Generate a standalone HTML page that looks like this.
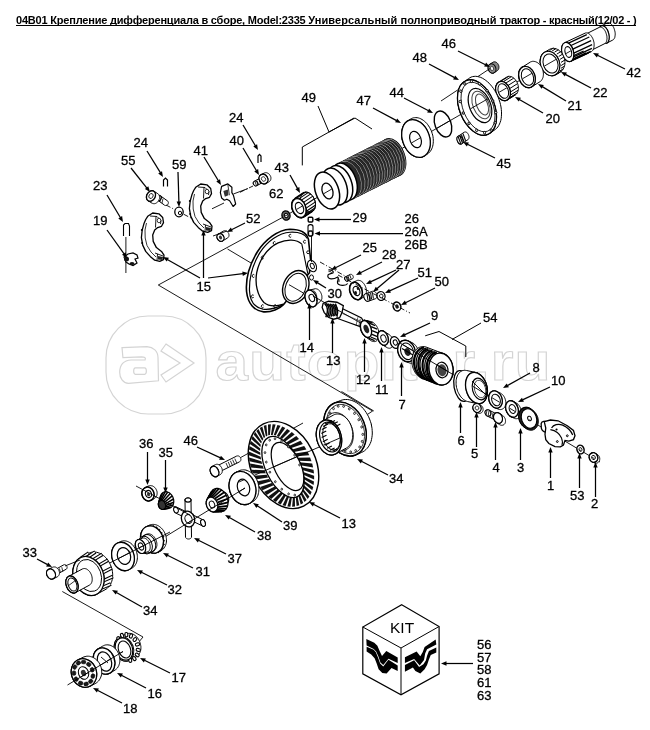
<!DOCTYPE html>
<html><head><meta charset="utf-8"><style>
html,body{margin:0;padding:0;background:#fff;}
body{width:650px;height:730px;overflow:hidden;position:relative;filter:grayscale(1);font-family:"Liberation Sans",sans-serif;}
#t{position:absolute;left:16px;top:15px;font-size:11px;font-weight:bold;white-space:nowrap;letter-spacing:-0.15px;color:#000;border-bottom:1px solid #000;line-height:11px;height:10px;}
svg{position:absolute;left:0;top:0;}
.lb text{font-size:13px;fill:#000;stroke:#000;stroke-width:0.3px;}
.ld line{stroke:#000;stroke-width:1.25;}
.ah{fill:#000;stroke:none;}
</style></head><body>
<svg width="650" height="730" viewBox="0 0 650 730" font-family="Liberation Sans, sans-serif">
<rect x="106" y="316" width="100" height="98" rx="42" ry="42" fill="none" stroke="#d4d4d4" stroke-width="1.2"/>
<g transform="translate(110 330) scale(0.09234)"><path d="M130,190 L400,180 C470,185 520,230 520,300 L525,550 L200,578 C140,575 105,520 105,460 C105,380 140,330 230,325 L380,325 C392,300 372,290 340,290 L140,298 Z M275,410 L375,410 C400,410 400,480 375,480 L275,480 C250,480 250,410 275,410 Z" fill="none" stroke="#d4d4d4" stroke-width="1.2" vector-effect="non-scaling-stroke"/></g>
<path d="M166,344 L194,363 L166,382 L161,375 L180,363 L161,351Z" fill="none" stroke="#d4d4d4" stroke-width="1.2"/>
<text transform="translate(215.5 380) scale(1.08 1)" font-family="Liberation Sans" font-weight="bold" font-size="54" letter-spacing="1.2" fill="none" stroke="#d4d4d4" stroke-width="1.1">autopiter.ru</text>
<path d="M612.0,27.0L286.0,215.5L158.3,285.0L372.6,411.0L361.6,418.3" fill="none" stroke="#000" stroke-width="0.9" />
<line x1="227.5" y1="249.0" x2="251.0" y2="263.0" stroke="#000" stroke-width="0.9" />
<path d="M302.3,165.4L302.3,147.0L354.0,118.0" fill="none" stroke="#000" stroke-width="1" />
<path d="M318.0,106.0L329.0,132.0" fill="none" stroke="#000" stroke-width="1" />
<path d="M329.0,132.0L355.0,118.0L372.0,129.0" fill="none" stroke="#000" stroke-width="1" />
<path d="M425.2,335.8L439.0,331.5L465.8,346.0L465.8,357.0" fill="none" stroke="#000" stroke-width="1" />
<line x1="452.0" y1="339.5" x2="481.0" y2="323.0" stroke="#000" stroke-width="1" />
<path d="M62.3,591.5L143.0,637.0L138.0,643.0" fill="none" stroke="#000" stroke-width="0.9" />
<path d="M341.5,391.5L373.8,411.0" fill="none" stroke="#000" stroke-width="0.9" />
<path d="M598.8,32.0L598.8,31.2L598.9,30.5L599.0,29.9L599.1,29.2L599.2,28.6L599.4,28.1L599.7,27.6L599.9,27.1L600.2,26.8L600.5,26.4L600.9,26.2L601.3,25.9L607.3,22.9L607.7,22.8L608.1,22.7L608.5,22.7L609.0,22.8L609.4,22.9L609.8,23.1L610.3,23.4L610.8,23.7L611.2,24.0L611.6,24.5L612.1,25.0L612.5,25.5L612.9,26.1L613.2,26.7L613.6,27.4L613.9,28.1L614.2,28.8L614.4,29.5L614.6,30.3L614.8,31.0L615.0,31.8L615.1,32.5L615.2,33.3L615.2,34.0L615.2,34.8L615.1,35.5L615.0,36.1L614.9,36.8L614.8,37.4L614.6,37.9L614.3,38.4L614.1,38.9L613.8,39.2L613.5,39.6L613.1,39.8L612.7,40.1L606.7,43.1L606.3,43.2L605.9,43.3L605.5,43.3L605.0,43.2L604.6,43.1L604.2,42.9L603.7,42.6L603.2,42.3L602.8,42.0L602.4,41.5L601.9,41.0L601.5,40.5L601.1,39.9L600.8,39.3L600.4,38.6L600.1,38.0L599.8,37.2L599.6,36.5L599.4,35.7L599.2,35.0L599.0,34.2L598.9,33.5L598.8,32.7Z" fill="#fff" stroke="#000" stroke-width="1" /><ellipse cx="604.0" cy="34.5" rx="4.8" ry="9.0" transform="rotate(-15 604.0 34.5)" fill="#fff" stroke="#000" stroke-width="1" />
<ellipse cx="604.0" cy="34.5" rx="4.8" ry="9.0" transform="rotate(-15 604.0 34.5)" fill="#fff" stroke="#000" stroke-width="1.1" />
<path d="M583.0,40.1L583.0,39.4L583.1,38.7L583.2,38.1L583.3,37.5L583.4,36.9L583.6,36.4L583.9,35.9L584.1,35.5L584.4,35.1L584.7,34.8L585.0,34.5L585.4,34.3L599.4,27.3L599.8,27.2L600.2,27.1L600.6,27.1L601.0,27.2L601.4,27.3L601.9,27.5L602.3,27.7L602.7,28.0L603.2,28.4L603.6,28.8L604.0,29.2L604.4,29.8L604.7,30.3L605.1,30.9L605.4,31.5L605.7,32.2L606.0,32.9L606.2,33.6L606.4,34.3L606.6,35.0L606.8,35.8L606.9,36.5L606.9,37.2L607.0,37.9L607.0,38.6L606.9,39.3L606.8,39.9L606.7,40.5L606.6,41.1L606.4,41.6L606.1,42.1L605.9,42.5L605.6,42.9L605.3,43.2L605.0,43.5L604.6,43.7L590.6,50.7L590.2,50.8L589.8,50.9L589.4,50.9L589.0,50.8L588.6,50.7L588.1,50.5L587.7,50.3L587.3,50.0L586.8,49.6L586.4,49.2L586.0,48.8L585.6,48.2L585.3,47.7L584.9,47.1L584.6,46.5L584.3,45.8L584.0,45.1L583.8,44.4L583.6,43.7L583.4,43.0L583.2,42.2L583.1,41.5L583.1,40.8Z" fill="#fff" stroke="#000" stroke-width="1" /><ellipse cx="588.0" cy="42.5" rx="4.6" ry="8.6" transform="rotate(-15 588.0 42.5)" fill="#fff" stroke="#000" stroke-width="1" />
<path d="M561.6,49.4L561.6,48.6L561.7,47.8L561.8,47.1L561.9,46.4L562.2,45.7L562.4,45.1L562.7,44.6L563.0,44.1L563.4,43.6L563.8,43.2L564.2,42.9L564.7,42.7L585.0,33.2L585.5,33.0L586.0,32.9L586.5,32.9L587.0,33.0L587.5,33.1L588.1,33.3L588.6,33.6L589.1,33.9L589.7,34.3L590.2,34.7L590.7,35.3L591.1,35.8L591.6,36.5L592.0,37.1L592.4,37.9L592.8,38.6L593.1,39.4L593.4,40.2L593.6,41.0L593.8,41.8L594.0,42.7L594.1,43.5L594.1,44.3L594.1,45.1L594.1,45.9L594.0,46.7L593.9,47.4L593.8,48.1L593.5,48.8L593.3,49.4L593.0,49.9L592.7,50.4L592.3,50.9L591.9,51.3L591.5,51.6L591.0,51.8L570.7,61.3L570.2,61.5L569.7,61.6L569.2,61.6L568.7,61.5L568.2,61.4L567.6,61.2L567.1,60.9L566.6,60.6L566.0,60.2L565.5,59.8L565.0,59.2L564.6,58.7L564.1,58.0L563.7,57.4L563.3,56.6L562.9,55.9L562.6,55.1L562.3,54.3L562.1,53.5L561.9,52.7L561.7,51.8L561.6,51.0L561.6,50.2Z" fill="#fff" stroke="#000" stroke-width="1" /><ellipse cx="567.7" cy="52.0" rx="5.8" ry="9.8" transform="rotate(-15 567.7 52.0)" fill="#fff" stroke="#000" stroke-width="1" />
<line x1="568.5" y1="43.2" x2="586.8" y2="34.7" stroke="#000" stroke-width="1.3" /><line x1="571.0" y1="45.5" x2="589.3" y2="37.0" stroke="#000" stroke-width="1.3" /><line x1="572.8" y1="49.1" x2="591.1" y2="40.6" stroke="#000" stroke-width="1.3" /><line x1="573.8" y1="53.1" x2="592.1" y2="44.6" stroke="#000" stroke-width="1.3" /><line x1="573.6" y1="56.9" x2="591.9" y2="48.4" stroke="#000" stroke-width="1.3" /><line x1="572.4" y1="59.9" x2="590.7" y2="51.4" stroke="#000" stroke-width="1.3" /><line x1="570.3" y1="61.4" x2="588.6" y2="52.9" stroke="#000" stroke-width="1.3" /><line x1="567.8" y1="61.3" x2="586.1" y2="52.8" stroke="#000" stroke-width="1.3" /><line x1="565.3" y1="59.5" x2="583.6" y2="51.0" stroke="#000" stroke-width="1.3" />
<ellipse cx="567.7" cy="52.0" rx="5.8" ry="9.8" transform="rotate(-15 567.7 52.0)" fill="#fff" stroke="#000" stroke-width="1.2" />
<ellipse cx="568.3" cy="52.0" rx="3.2" ry="5.5" transform="rotate(-15 568.3 52.0)" fill="#fff" stroke="#000" stroke-width="1.1" />
<path d="M540.1,61.5L540.1,60.4L540.2,59.4L540.4,58.4L540.7,57.5L541.0,56.6L541.4,55.7L541.8,55.0L542.4,54.2L542.9,53.6L543.6,53.0L544.2,52.5L549.2,49.5L550.0,49.1L550.7,48.8L551.5,48.5L552.3,48.4L553.2,48.3L554.0,48.4L554.9,48.5L555.8,48.7L556.6,49.0L557.5,49.4L558.3,49.9L559.1,50.5L559.9,51.1L560.6,51.8L561.3,52.6L561.9,53.4L562.5,54.3L563.0,55.3L563.5,56.2L563.9,57.3L564.3,58.3L564.5,59.3L564.7,60.4L564.9,61.5L564.9,62.5L564.9,63.6L564.8,64.6L564.6,65.6L564.3,66.5L564.0,67.4L563.6,68.3L563.2,69.0L562.6,69.8L562.1,70.4L561.4,71.0L560.8,71.5L555.8,74.5L555.0,74.9L554.3,75.2L553.5,75.5L552.7,75.6L551.8,75.7L551.0,75.6L550.1,75.5L549.2,75.3L548.4,75.0L547.5,74.6L546.7,74.1L545.9,73.5L545.1,72.9L544.4,72.2L543.7,71.4L543.1,70.6L542.5,69.7L542.0,68.7L541.5,67.8L541.1,66.7L540.7,65.7L540.5,64.7L540.3,63.6L540.1,62.5Z" fill="#fff" stroke="#000" stroke-width="1" /><ellipse cx="550.0" cy="63.5" rx="9.5" ry="12.5" transform="rotate(-20 550.0 63.5)" fill="#fff" stroke="#000" stroke-width="1" />
<line x1="549.5" y1="50.5" x2="553.5" y2="48.0" stroke="#000" stroke-width="1.0" /><line x1="552.1" y1="51.0" x2="556.1" y2="48.5" stroke="#000" stroke-width="1.0" /><line x1="554.5" y1="52.2" x2="558.5" y2="49.7" stroke="#000" stroke-width="1.0" /><line x1="556.8" y1="54.1" x2="560.8" y2="51.6" stroke="#000" stroke-width="1.0" /><line x1="558.7" y1="56.5" x2="562.7" y2="54.0" stroke="#000" stroke-width="1.0" /><line x1="560.1" y1="59.3" x2="564.1" y2="56.8" stroke="#000" stroke-width="1.0" /><line x1="561.0" y1="62.4" x2="565.0" y2="59.9" stroke="#000" stroke-width="1.0" /><line x1="561.2" y1="65.5" x2="565.2" y2="63.0" stroke="#000" stroke-width="1.0" /><line x1="560.8" y1="68.4" x2="564.8" y2="65.9" stroke="#000" stroke-width="1.0" /><line x1="559.8" y1="71.0" x2="563.8" y2="68.5" stroke="#000" stroke-width="1.0" /><line x1="558.3" y1="73.2" x2="562.3" y2="70.7" stroke="#000" stroke-width="1.0" /><line x1="556.3" y1="74.6" x2="560.3" y2="72.1" stroke="#000" stroke-width="1.0" /><line x1="554.0" y1="75.4" x2="558.0" y2="72.9" stroke="#000" stroke-width="1.0" /><line x1="551.5" y1="75.4" x2="555.5" y2="72.9" stroke="#000" stroke-width="1.0" />
<ellipse cx="550.0" cy="63.5" rx="9.5" ry="12.5" transform="rotate(-20 550.0 63.5)" fill="#fff" stroke="#000" stroke-width="1.1" />
<ellipse cx="550.5" cy="63.5" rx="7.2" ry="9.8" transform="rotate(-20 550.5 63.5)" fill="#fff" stroke="#000" stroke-width="1.0" />
<path d="M518.6,75.1L518.6,74.2L518.7,73.3L518.8,72.5L519.0,71.6L519.3,70.8L519.6,70.1L520.0,69.4L520.4,68.8L520.9,68.2L521.4,67.7L522.0,67.3L530.0,62.3L530.6,61.9L531.2,61.7L531.9,61.5L532.6,61.3L533.3,61.3L534.0,61.4L534.8,61.5L535.5,61.7L536.2,62.0L537.0,62.3L537.7,62.8L538.3,63.3L539.0,63.8L539.6,64.5L540.2,65.2L540.8,65.9L541.3,66.7L541.8,67.5L542.2,68.4L542.5,69.3L542.8,70.2L543.1,71.1L543.2,72.0L543.4,73.0L543.4,73.9L543.4,74.8L543.3,75.7L543.2,76.5L543.0,77.4L542.7,78.2L542.4,78.9L542.0,79.6L541.6,80.2L541.1,80.8L540.6,81.3L540.0,81.7L532.0,86.7L531.4,87.1L530.8,87.3L530.1,87.5L529.4,87.7L528.7,87.7L528.0,87.6L527.2,87.5L526.5,87.3L525.8,87.0L525.0,86.7L524.3,86.2L523.7,85.7L523.0,85.2L522.4,84.5L521.8,83.8L521.2,83.1L520.7,82.3L520.2,81.5L519.8,80.6L519.5,79.7L519.2,78.8L518.9,77.9L518.8,77.0L518.6,76.0Z" fill="#fff" stroke="#000" stroke-width="1" /><ellipse cx="527.0" cy="77.0" rx="8.0" ry="11.0" transform="rotate(-20 527.0 77.0)" fill="#fff" stroke="#000" stroke-width="1" />
<ellipse cx="527.0" cy="77.0" rx="8.0" ry="11.0" transform="rotate(-20 527.0 77.0)" fill="#fff" stroke="#000" stroke-width="1.3" />
<ellipse cx="527.5" cy="77.0" rx="5.8" ry="8.6" transform="rotate(-20 527.5 77.0)" fill="#fff" stroke="#000" stroke-width="1" />
<path d="M495.6,89.2L495.6,88.4L495.6,87.6L495.8,86.8L495.9,86.0L496.2,85.3L496.4,84.7L496.7,84.1L497.1,83.5L497.5,83.0L498.0,82.5L498.5,82.2L506.5,77.2L507.0,76.8L507.6,76.6L508.2,76.4L508.8,76.3L509.4,76.3L510.0,76.4L510.7,76.5L511.3,76.7L512.0,76.9L512.6,77.3L513.2,77.7L513.8,78.1L514.4,78.6L515.0,79.2L515.5,79.9L516.0,80.5L516.5,81.3L516.9,82.0L517.3,82.8L517.6,83.6L517.9,84.4L518.1,85.3L518.2,86.1L518.4,87.0L518.4,87.8L518.4,88.6L518.4,89.4L518.2,90.2L518.1,91.0L517.8,91.7L517.6,92.3L517.3,92.9L516.9,93.5L516.5,94.0L516.0,94.5L515.5,94.8L507.5,99.8L507.0,100.2L506.4,100.4L505.8,100.6L505.2,100.7L504.6,100.7L504.0,100.6L503.3,100.5L502.7,100.3L502.0,100.1L501.4,99.7L500.8,99.3L500.2,98.9L499.6,98.4L499.0,97.8L498.5,97.1L498.0,96.5L497.5,95.7L497.1,95.0L496.7,94.2L496.4,93.4L496.1,92.6L495.9,91.7L495.8,90.9L495.6,90.0Z" fill="#fff" stroke="#000" stroke-width="1" /><ellipse cx="503.0" cy="91.0" rx="7.0" ry="10.0" transform="rotate(-20 503.0 91.0)" fill="#fff" stroke="#000" stroke-width="1" />
<line x1="500.8" y1="81.3" x2="508.8" y2="76.3" stroke="#000" stroke-width="1" /><line x1="503.3" y1="81.7" x2="511.3" y2="76.7" stroke="#000" stroke-width="1" /><line x1="505.8" y1="83.1" x2="513.8" y2="78.1" stroke="#000" stroke-width="1" /><line x1="508.0" y1="85.5" x2="516.0" y2="80.5" stroke="#000" stroke-width="1" /><line x1="509.6" y1="88.6" x2="517.6" y2="83.6" stroke="#000" stroke-width="1" /><line x1="510.4" y1="92.0" x2="518.4" y2="87.0" stroke="#000" stroke-width="1" /><line x1="510.2" y1="95.2" x2="518.2" y2="90.2" stroke="#000" stroke-width="1" /><line x1="509.3" y1="97.9" x2="517.3" y2="92.9" stroke="#000" stroke-width="1" /><line x1="507.5" y1="99.8" x2="515.5" y2="94.8" stroke="#000" stroke-width="1" /><line x1="505.2" y1="100.7" x2="513.2" y2="95.7" stroke="#000" stroke-width="1" />
<ellipse cx="503.0" cy="91.0" rx="7.0" ry="10.0" transform="rotate(-20 503.0 91.0)" fill="#fff" stroke="#000" stroke-width="1.3" />
<ellipse cx="503.3" cy="91.0" rx="5.0" ry="7.6" transform="rotate(-20 503.3 91.0)" fill="#fff" stroke="#000" stroke-width="1" />
<path d="M488.1,67.8L488.1,67.4L488.1,67.0L488.2,66.6L488.3,66.2L488.4,65.9L488.6,65.6L488.8,65.2L489.0,65.0L489.2,64.7L489.5,64.5L489.8,64.3L492.8,62.3L493.1,62.1L493.4,62.0L493.7,61.9L494.0,61.8L494.3,61.8L494.7,61.8L495.0,61.9L495.4,61.9L495.7,62.1L496.0,62.2L496.4,62.4L496.7,62.6L497.0,62.8L497.3,63.1L497.5,63.4L497.8,63.7L498.0,64.1L498.2,64.4L498.4,64.8L498.6,65.2L498.7,65.6L498.8,66.0L498.9,66.4L498.9,66.8L498.9,67.2L498.9,67.6L498.9,68.0L498.8,68.4L498.7,68.8L498.6,69.1L498.4,69.4L498.2,69.8L498.0,70.0L497.8,70.3L497.5,70.5L497.2,70.7L494.2,72.7L493.9,72.9L493.6,73.0L493.3,73.1L493.0,73.2L492.7,73.2L492.3,73.2L492.0,73.1L491.6,73.1L491.3,72.9L491.0,72.8L490.6,72.6L490.3,72.4L490.0,72.2L489.7,71.9L489.5,71.6L489.2,71.3L489.0,70.9L488.8,70.6L488.6,70.2L488.4,69.8L488.3,69.4L488.2,69.0L488.1,68.6L488.1,68.2Z" fill="#888" stroke="#000" stroke-width="1" /><ellipse cx="492.0" cy="68.5" rx="3.8" ry="4.8" transform="rotate(-20 492.0 68.5)" fill="#888" stroke="#000" stroke-width="1" />
<ellipse cx="492.0" cy="68.5" rx="1.6" ry="2.0" transform="rotate(-20 492.0 68.5)" fill="#fff" stroke="#000" stroke-width="0.6" />
<line x1="441.0" y1="101.0" x2="490.0" y2="68.5" stroke="#000" stroke-width="0.9" />
<path d="M457.5,97.4L457.6,95.2L457.8,93.1L458.2,91.1L458.8,89.2L459.5,87.5L460.3,85.9L461.2,84.5L462.3,83.2L463.5,82.2L468.5,78.7L469.8,77.8L471.1,77.1L472.6,76.6L474.1,76.4L475.7,76.3L477.3,76.5L479.0,76.9L480.7,77.4L482.4,78.2L484.1,79.2L485.8,80.4L487.4,81.7L489.1,83.2L490.6,84.9L492.1,86.7L493.5,88.6L494.9,90.7L496.1,92.9L497.2,95.1L498.2,97.4L499.1,99.8L499.9,102.2L500.5,104.6L501.0,107.0L501.3,109.4L501.5,111.8L501.5,114.1L501.4,116.3L501.2,118.4L500.8,120.4L500.2,122.3L499.5,124.0L498.7,125.6L497.8,127.0L496.7,128.3L495.5,129.3L490.5,132.8L489.2,133.7L487.9,134.4L486.4,134.9L484.9,135.1L483.3,135.2L481.7,135.0L480.0,134.6L478.3,134.1L476.6,133.3L474.9,132.3L473.2,131.1L471.6,129.8L469.9,128.3L468.4,126.6L466.9,124.8L465.5,122.9L464.1,120.8L462.9,118.6L461.8,116.4L460.8,114.1L459.9,111.7L459.1,109.3L458.5,106.9L458.0,104.5L457.7,102.1L457.5,99.7Z" fill="#fff" stroke="#000" stroke-width="1" /><ellipse cx="477.0" cy="107.5" rx="17.5" ry="29.0" transform="rotate(-22 477.0 107.5)" fill="#fff" stroke="#000" stroke-width="1" />
<ellipse cx="477.0" cy="107.5" rx="17.5" ry="29.0" transform="rotate(-22 477.0 107.5)" fill="#fff" stroke="#000" stroke-width="1.3" />
<ellipse cx="478.0" cy="107.0" rx="15.0" ry="26.0" transform="rotate(-22 478.0 107.0)" fill="none" stroke="#000" stroke-width="0.8" />
<ellipse cx="480.0" cy="105.5" rx="10.5" ry="18.0" transform="rotate(-22 480.0 105.5)" fill="#fff" stroke="#000" stroke-width="1.2" />
<ellipse cx="481.0" cy="105.0" rx="8.0" ry="14.5" transform="rotate(-22 481.0 105.0)" fill="none" stroke="#444" stroke-width="1" />
<ellipse cx="482.0" cy="104.5" rx="5.5" ry="11.0" transform="rotate(-22 482.0 104.5)" fill="none" stroke="#444" stroke-width="1" />
<ellipse cx="492.8" cy="101.0" rx="1.1" ry="1.3" transform="rotate(0 492.8 101.0)" fill="#fff" stroke="#000" stroke-width="1" />
<ellipse cx="495.8" cy="112.5" rx="1.1" ry="1.3" transform="rotate(0 495.8 112.5)" fill="#fff" stroke="#000" stroke-width="1" />
<ellipse cx="495.2" cy="122.8" rx="1.1" ry="1.3" transform="rotate(0 495.2 122.8)" fill="#fff" stroke="#000" stroke-width="1" />
<ellipse cx="491.2" cy="130.1" rx="1.1" ry="1.3" transform="rotate(0 491.2 130.1)" fill="#fff" stroke="#000" stroke-width="1" />
<ellipse cx="484.6" cy="132.7" rx="1.1" ry="1.3" transform="rotate(0 484.6 132.7)" fill="#fff" stroke="#000" stroke-width="1" />
<ellipse cx="476.7" cy="130.3" rx="1.1" ry="1.3" transform="rotate(0 476.7 130.3)" fill="#fff" stroke="#000" stroke-width="1" />
<ellipse cx="469.0" cy="123.3" rx="1.1" ry="1.3" transform="rotate(0 469.0 123.3)" fill="#fff" stroke="#000" stroke-width="1" />
<ellipse cx="463.2" cy="113.0" rx="1.1" ry="1.3" transform="rotate(0 463.2 113.0)" fill="#fff" stroke="#000" stroke-width="1" />
<ellipse cx="460.2" cy="101.5" rx="1.1" ry="1.3" transform="rotate(0 460.2 101.5)" fill="#fff" stroke="#000" stroke-width="1" />
<ellipse cx="460.8" cy="91.2" rx="1.1" ry="1.3" transform="rotate(0 460.8 91.2)" fill="#fff" stroke="#000" stroke-width="1" />
<ellipse cx="464.8" cy="83.9" rx="1.1" ry="1.3" transform="rotate(0 464.8 83.9)" fill="#fff" stroke="#000" stroke-width="1" />
<ellipse cx="471.4" cy="81.3" rx="1.1" ry="1.3" transform="rotate(0 471.4 81.3)" fill="#fff" stroke="#000" stroke-width="1" />
<ellipse cx="479.3" cy="83.7" rx="1.1" ry="1.3" transform="rotate(0 479.3 83.7)" fill="#fff" stroke="#000" stroke-width="1" />
<ellipse cx="487.0" cy="90.7" rx="1.1" ry="1.3" transform="rotate(0 487.0 90.7)" fill="#fff" stroke="#000" stroke-width="1" />
<ellipse cx="443.0" cy="124.0" rx="8.0" ry="13.5" transform="rotate(-20 443.0 124.0)" fill="none" stroke="#000" stroke-width="1.4" />
<path d="M457.0,138.9L457.0,138.5L457.1,138.2L457.1,137.9L457.2,137.6L457.3,137.3L457.4,137.1L457.6,136.8L457.8,136.6L457.9,136.4L458.1,136.3L464.1,132.3L464.3,132.2L464.6,132.1L464.8,132.0L465.0,131.9L465.3,131.9L465.6,132.0L465.8,132.0L466.1,132.1L466.3,132.2L466.6,132.4L466.8,132.5L467.1,132.7L467.3,133.0L467.6,133.2L467.8,133.5L468.0,133.8L468.2,134.1L468.3,134.4L468.5,134.7L468.6,135.0L468.7,135.4L468.8,135.7L468.9,136.1L469.0,136.4L469.0,136.8L469.0,137.1L469.0,137.5L468.9,137.8L468.9,138.1L468.8,138.4L468.7,138.7L468.6,138.9L468.4,139.2L468.2,139.4L468.1,139.6L467.9,139.7L461.9,143.7L461.7,143.8L461.4,143.9L461.2,144.0L461.0,144.1L460.7,144.1L460.4,144.0L460.2,144.0L459.9,143.9L459.7,143.8L459.4,143.6L459.2,143.5L458.9,143.3L458.7,143.0L458.4,142.8L458.2,142.5L458.0,142.2L457.8,141.9L457.7,141.6L457.5,141.3L457.4,141.0L457.3,140.6L457.2,140.3L457.1,139.9L457.0,139.6L457.0,139.2Z" fill="#fff" stroke="#000" stroke-width="1" /><ellipse cx="460.0" cy="140.0" rx="2.8" ry="4.2" transform="rotate(-20 460.0 140.0)" fill="#fff" stroke="#000" stroke-width="1" />
<line x1="458.2" y1="136.7" x2="460.8" y2="143.9" stroke="#000" stroke-width="1.1" />
<line x1="459.8" y1="135.7" x2="462.4" y2="142.8" stroke="#000" stroke-width="1.1" />
<line x1="461.4" y1="134.6" x2="464.0" y2="141.8" stroke="#000" stroke-width="1.1" />
<line x1="463.0" y1="133.6" x2="465.6" y2="140.8" stroke="#000" stroke-width="1.1" />
<path d="M401.7,133.3L401.8,131.8L402.0,130.3L402.3,128.8L402.7,127.4L403.3,126.1L403.9,124.9L404.6,123.8L405.4,122.9L406.3,122.0L407.2,121.3L410.2,119.3L411.3,118.6L412.3,118.2L413.5,117.8L414.6,117.7L415.8,117.6L417.1,117.7L418.3,117.9L419.6,118.3L420.8,118.8L422.0,119.5L423.3,120.3L424.4,121.2L425.6,122.2L426.7,123.3L427.7,124.6L428.6,125.9L429.5,127.3L430.3,128.8L431.1,130.3L431.7,131.9L432.2,133.5L432.7,135.1L433.0,136.8L433.2,138.4L433.3,140.1L433.3,141.7L433.2,143.2L433.0,144.7L432.7,146.2L432.3,147.6L431.7,148.9L431.1,150.1L430.4,151.2L429.6,152.1L428.7,153.0L427.8,153.7L424.8,155.7L423.7,156.4L422.7,156.8L421.5,157.2L420.4,157.3L419.2,157.4L417.9,157.3L416.7,157.1L415.4,156.7L414.2,156.2L413.0,155.5L411.7,154.7L410.6,153.8L409.4,152.8L408.3,151.7L407.3,150.4L406.4,149.1L405.5,147.7L404.7,146.2L403.9,144.7L403.3,143.1L402.8,141.5L402.3,139.9L402.0,138.2L401.8,136.6L401.7,134.9Z" fill="#fff" stroke="#000" stroke-width="1" /><ellipse cx="416.0" cy="138.5" rx="13.5" ry="19.5" transform="rotate(-20 416.0 138.5)" fill="#fff" stroke="#000" stroke-width="1" />
<ellipse cx="416.0" cy="138.5" rx="13.5" ry="19.5" transform="rotate(-20 416.0 138.5)" fill="#fff" stroke="#000" stroke-width="1.3" />
<ellipse cx="415.5" cy="139.5" rx="5.5" ry="8.5" transform="rotate(-20 415.5 139.5)" fill="#fff" stroke="#000" stroke-width="1.2" />
<ellipse cx="393.0" cy="157.2" rx="11.5" ry="19.2" transform="rotate(-20 393.0 157.2)" fill="#111" stroke="#000" stroke-width="1.5" />
<ellipse cx="392.5" cy="157.5" rx="11.5" ry="19.2" transform="rotate(-20 392.5 157.5)" fill="#2a2a2a" stroke="#000" stroke-width="1.2" />
<ellipse cx="392.9" cy="157.3" rx="11.3" ry="19.0" transform="rotate(-20 392.9 157.3)" fill="none" stroke="#d0d0d0" stroke-width="0.6" />
<ellipse cx="390.2" cy="158.7" rx="11.5" ry="19.2" transform="rotate(-20 390.2 158.7)" fill="#2a2a2a" stroke="#000" stroke-width="1.2" />
<ellipse cx="390.6" cy="158.5" rx="11.3" ry="19.0" transform="rotate(-20 390.6 158.5)" fill="none" stroke="#d0d0d0" stroke-width="0.6" />
<ellipse cx="387.9" cy="159.8" rx="11.5" ry="19.2" transform="rotate(-20 387.9 159.8)" fill="#2a2a2a" stroke="#000" stroke-width="1.2" />
<ellipse cx="388.3" cy="159.6" rx="11.3" ry="19.0" transform="rotate(-20 388.3 159.6)" fill="none" stroke="#d0d0d0" stroke-width="0.6" />
<ellipse cx="385.3" cy="161.1" rx="11.5" ry="19.2" transform="rotate(-20 385.3 161.1)" fill="#2a2a2a" stroke="#000" stroke-width="1.2" />
<ellipse cx="385.7" cy="160.9" rx="11.3" ry="19.0" transform="rotate(-20 385.7 160.9)" fill="none" stroke="#d0d0d0" stroke-width="0.6" />
<ellipse cx="382.7" cy="162.4" rx="11.5" ry="19.2" transform="rotate(-20 382.7 162.4)" fill="#2a2a2a" stroke="#000" stroke-width="1.2" />
<ellipse cx="383.1" cy="162.2" rx="11.3" ry="19.0" transform="rotate(-20 383.1 162.2)" fill="none" stroke="#d0d0d0" stroke-width="0.6" />
<ellipse cx="380.1" cy="163.8" rx="11.5" ry="19.2" transform="rotate(-20 380.1 163.8)" fill="#2a2a2a" stroke="#000" stroke-width="1.2" />
<ellipse cx="380.5" cy="163.6" rx="11.3" ry="19.0" transform="rotate(-20 380.5 163.6)" fill="none" stroke="#d0d0d0" stroke-width="0.6" />
<ellipse cx="377.4" cy="165.1" rx="11.5" ry="19.2" transform="rotate(-20 377.4 165.1)" fill="#2a2a2a" stroke="#000" stroke-width="1.2" />
<ellipse cx="377.8" cy="164.9" rx="11.3" ry="19.0" transform="rotate(-20 377.8 164.9)" fill="none" stroke="#d0d0d0" stroke-width="0.6" />
<ellipse cx="374.8" cy="166.4" rx="11.5" ry="19.2" transform="rotate(-20 374.8 166.4)" fill="#2a2a2a" stroke="#000" stroke-width="1.2" />
<ellipse cx="375.2" cy="166.2" rx="11.3" ry="19.0" transform="rotate(-20 375.2 166.2)" fill="none" stroke="#d0d0d0" stroke-width="0.6" />
<ellipse cx="372.2" cy="167.7" rx="11.5" ry="19.2" transform="rotate(-20 372.2 167.7)" fill="#2a2a2a" stroke="#000" stroke-width="1.2" />
<ellipse cx="372.6" cy="167.5" rx="11.3" ry="19.0" transform="rotate(-20 372.6 167.5)" fill="none" stroke="#d0d0d0" stroke-width="0.6" />
<ellipse cx="369.6" cy="169.1" rx="11.5" ry="19.2" transform="rotate(-20 369.6 169.1)" fill="#2a2a2a" stroke="#000" stroke-width="1.2" />
<ellipse cx="370.0" cy="168.9" rx="11.3" ry="19.0" transform="rotate(-20 370.0 168.9)" fill="none" stroke="#d0d0d0" stroke-width="0.6" />
<ellipse cx="367.0" cy="170.4" rx="11.5" ry="19.2" transform="rotate(-20 367.0 170.4)" fill="#2a2a2a" stroke="#000" stroke-width="1.2" />
<ellipse cx="367.4" cy="170.2" rx="11.3" ry="19.0" transform="rotate(-20 367.4 170.2)" fill="none" stroke="#d0d0d0" stroke-width="0.6" />
<ellipse cx="364.3" cy="171.7" rx="11.5" ry="19.2" transform="rotate(-20 364.3 171.7)" fill="#2a2a2a" stroke="#000" stroke-width="1.2" />
<ellipse cx="364.7" cy="171.5" rx="11.3" ry="19.0" transform="rotate(-20 364.7 171.5)" fill="none" stroke="#d0d0d0" stroke-width="0.6" />
<ellipse cx="361.4" cy="173.2" rx="11.5" ry="19.2" transform="rotate(-20 361.4 173.2)" fill="#2a2a2a" stroke="#000" stroke-width="1.2" />
<ellipse cx="361.8" cy="173.0" rx="11.3" ry="19.0" transform="rotate(-20 361.8 173.0)" fill="none" stroke="#d0d0d0" stroke-width="0.6" />
<ellipse cx="358.4" cy="174.7" rx="11.5" ry="19.2" transform="rotate(-20 358.4 174.7)" fill="#2a2a2a" stroke="#000" stroke-width="1.2" />
<ellipse cx="358.8" cy="174.5" rx="11.3" ry="19.0" transform="rotate(-20 358.8 174.5)" fill="none" stroke="#d0d0d0" stroke-width="0.6" />
<ellipse cx="355.5" cy="176.1" rx="11.5" ry="19.2" transform="rotate(-20 355.5 176.1)" fill="#2a2a2a" stroke="#000" stroke-width="1.2" />
<ellipse cx="355.9" cy="175.9" rx="11.3" ry="19.0" transform="rotate(-20 355.9 175.9)" fill="none" stroke="#d0d0d0" stroke-width="0.6" />
<ellipse cx="352.2" cy="177.8" rx="11.5" ry="19.2" transform="rotate(-20 352.2 177.8)" fill="#2a2a2a" stroke="#000" stroke-width="1.2" />
<ellipse cx="352.6" cy="177.6" rx="11.3" ry="19.0" transform="rotate(-20 352.6 177.6)" fill="none" stroke="#d0d0d0" stroke-width="0.6" />
<ellipse cx="348.6" cy="179.6" rx="11.5" ry="19.2" transform="rotate(-20 348.6 179.6)" fill="#2a2a2a" stroke="#000" stroke-width="1.2" />
<ellipse cx="349.0" cy="179.4" rx="11.3" ry="19.0" transform="rotate(-20 349.0 179.4)" fill="none" stroke="#d0d0d0" stroke-width="0.6" />
<ellipse cx="344.7" cy="181.6" rx="11.5" ry="19.2" transform="rotate(-20 344.7 181.6)" fill="#fff" stroke="#000" stroke-width="1.5" />
<ellipse cx="340.1" cy="183.9" rx="11.5" ry="19.2" transform="rotate(-20 340.1 183.9)" fill="#fff" stroke="#000" stroke-width="1.5" />
<ellipse cx="334.9" cy="186.5" rx="11.5" ry="19.2" transform="rotate(-20 334.9 186.5)" fill="#fff" stroke="#000" stroke-width="1.5" />
<ellipse cx="327.0" cy="190.5" rx="11.5" ry="19.2" transform="rotate(-20 327.0 190.5)" fill="#fff" stroke="#000" stroke-width="1.5" />
<ellipse cx="327.5" cy="191.0" rx="5.2" ry="8.2" transform="rotate(-20 327.5 191.0)" fill="#fff" stroke="#000" stroke-width="1.3" />
<path d="M291.5,205.5L291.5,204.7L291.5,203.9L291.7,203.1L291.9,202.4L292.1,201.7L292.4,201.0L292.8,200.5L293.2,199.9L293.6,199.5L294.1,199.1L303.1,193.1L303.6,192.7L304.1,192.5L304.7,192.3L305.3,192.1L306.0,192.1L306.6,192.1L307.2,192.2L307.9,192.4L308.6,192.7L309.2,193.0L309.9,193.4L310.5,193.9L311.1,194.4L311.7,195.0L312.3,195.6L312.8,196.3L313.3,197.0L313.7,197.8L314.1,198.6L314.5,199.4L314.8,200.2L315.1,201.1L315.3,201.9L315.4,202.8L315.5,203.7L315.5,204.5L315.5,205.3L315.5,206.1L315.3,206.9L315.1,207.6L314.9,208.3L314.6,209.0L314.2,209.5L313.8,210.1L313.4,210.5L312.9,210.9L303.9,216.9L303.4,217.3L302.9,217.5L302.3,217.7L301.7,217.9L301.0,217.9L300.4,217.9L299.8,217.8L299.1,217.6L298.4,217.3L297.8,217.0L297.1,216.6L296.5,216.1L295.9,215.6L295.3,215.0L294.7,214.4L294.2,213.7L293.7,213.0L293.3,212.2L292.9,211.4L292.5,210.6L292.2,209.8L291.9,208.9L291.7,208.1L291.6,207.2L291.5,206.3Z" fill="#fff" stroke="#000" stroke-width="1" /><ellipse cx="299.0" cy="208.0" rx="7.0" ry="10.3" transform="rotate(-22 299.0 208.0)" fill="#fff" stroke="#000" stroke-width="1" />
<line x1="294.9" y1="198.3" x2="303.9" y2="192.3" stroke="#000" stroke-width="1.1" /><line x1="297.1" y1="197.9" x2="306.1" y2="191.9" stroke="#000" stroke-width="1.1" /><line x1="299.5" y1="198.4" x2="308.5" y2="192.4" stroke="#000" stroke-width="1.1" /><line x1="301.8" y1="199.9" x2="310.8" y2="193.9" stroke="#000" stroke-width="1.1" /><line x1="303.9" y1="202.1" x2="312.9" y2="196.1" stroke="#000" stroke-width="1.1" /><line x1="305.5" y1="204.8" x2="314.5" y2="198.8" stroke="#000" stroke-width="1.1" /><line x1="306.5" y1="207.9" x2="315.5" y2="201.9" stroke="#000" stroke-width="1.1" /><line x1="306.7" y1="211.0" x2="315.7" y2="205.0" stroke="#000" stroke-width="1.1" /><line x1="306.3" y1="213.8" x2="315.3" y2="207.8" stroke="#000" stroke-width="1.1" /><line x1="305.1" y1="216.0" x2="314.1" y2="210.0" stroke="#000" stroke-width="1.1" /><line x1="303.4" y1="217.5" x2="312.4" y2="211.5" stroke="#000" stroke-width="1.1" /><line x1="301.3" y1="218.1" x2="310.3" y2="212.1" stroke="#000" stroke-width="1.1" /><line x1="298.9" y1="217.7" x2="307.9" y2="211.7" stroke="#000" stroke-width="1.1" />
<ellipse cx="308.0" cy="202.0" rx="7.0" ry="10.3" transform="rotate(-22 308.0 202.0)" fill="none" stroke="#000" stroke-width="0.8" />
<ellipse cx="299.0" cy="208.0" rx="6.6" ry="9.8" transform="rotate(-22 299.0 208.0)" fill="#fff" stroke="#000" stroke-width="1.3" />
<ellipse cx="299.5" cy="208.0" rx="3.8" ry="5.8" transform="rotate(-22 299.5 208.0)" fill="#fff" stroke="#000" stroke-width="1.2" />
<ellipse cx="286.0" cy="215.5" rx="4.0" ry="4.6" transform="rotate(-20 286.0 215.5)" fill="#666" stroke="#000" stroke-width="1.4" />
<ellipse cx="286.2" cy="215.5" rx="1.8" ry="2.2" transform="rotate(-20 286.2 215.5)" fill="#fff" stroke="#000" stroke-width="1" />
<path d="M253.3,183.1L253.3,182.9L253.3,182.7L253.4,182.5L253.4,182.3L253.5,182.2L253.6,182.0L253.7,181.8L253.8,181.7L254.0,181.6L254.1,181.4L254.2,181.3L260.8,177.8L260.9,177.8L261.1,177.7L261.3,177.6L261.4,177.6L261.6,177.6L261.8,177.6L262.0,177.6L262.2,177.7L262.4,177.7L262.6,177.8L262.8,177.9L262.9,178.0L263.1,178.1L263.3,178.3L263.4,178.4L263.6,178.6L263.7,178.8L263.8,178.9L263.9,179.1L264.0,179.3L264.1,179.5L264.1,179.8L264.2,180.0L264.2,180.2L264.2,180.4L264.2,180.6L264.2,180.8L264.1,181.0L264.1,181.2L264.0,181.3L263.9,181.5L263.8,181.7L263.7,181.8L263.5,181.9L263.4,182.1L263.2,182.2L256.8,185.7L256.6,185.7L256.4,185.8L256.2,185.9L256.1,185.9L255.9,185.9L255.7,185.9L255.5,185.9L255.3,185.8L255.1,185.8L254.9,185.7L254.7,185.6L254.6,185.5L254.4,185.4L254.2,185.2L254.1,185.1L253.9,184.9L253.8,184.7L253.7,184.6L253.6,184.4L253.5,184.2L253.4,184.0L253.4,183.7L253.3,183.5L253.3,183.3Z" fill="#fff" stroke="#000" stroke-width="1" /><ellipse cx="255.5" cy="183.5" rx="2.1" ry="2.5" transform="rotate(-30 255.5 183.5)" fill="#fff" stroke="#000" stroke-width="1" />
<line x1="255.0" y1="181.6" x2="256.5" y2="185.6" stroke="#000" stroke-width="0.8" />
<line x1="257.0" y1="180.6" x2="258.5" y2="184.6" stroke="#000" stroke-width="0.8" />
<line x1="259.0" y1="179.6" x2="260.5" y2="183.6" stroke="#000" stroke-width="0.8" />
<path d="M259.1,178.2L259.1,177.8L259.2,177.4L259.2,177.0L259.4,176.7L259.5,176.3L259.7,176.0L259.9,175.6L260.1,175.4L260.4,175.1L260.7,174.9L261.0,174.7L261.3,174.5L264.3,173.0L264.7,172.9L265.0,172.8L265.4,172.7L265.8,172.7L266.2,172.7L266.5,172.7L266.9,172.8L267.3,173.0L267.7,173.1L268.0,173.3L268.4,173.5L268.7,173.8L269.1,174.0L269.4,174.4L269.6,174.7L269.9,175.0L270.1,175.4L270.3,175.8L270.5,176.2L270.7,176.6L270.8,177.0L270.9,177.4L270.9,177.8L270.9,178.3L270.9,178.7L270.8,179.1L270.8,179.5L270.6,179.8L270.5,180.2L270.3,180.5L270.1,180.9L269.9,181.1L269.6,181.4L269.3,181.6L269.0,181.8L268.7,182.0L265.7,183.5L265.3,183.6L265.0,183.7L264.6,183.8L264.2,183.8L263.8,183.8L263.5,183.8L263.1,183.7L262.7,183.5L262.3,183.4L262.0,183.2L261.6,183.0L261.3,182.7L260.9,182.5L260.6,182.1L260.4,181.8L260.1,181.5L259.9,181.1L259.7,180.7L259.5,180.3L259.3,179.9L259.2,179.5L259.1,179.1L259.1,178.7Z" fill="#fff" stroke="#000" stroke-width="1" /><ellipse cx="263.5" cy="179.0" rx="4.2" ry="5.0" transform="rotate(-30 263.5 179.0)" fill="#fff" stroke="#000" stroke-width="1" />
<ellipse cx="263.5" cy="179.0" rx="4.2" ry="5.0" transform="rotate(-30 263.5 179.0)" fill="#fff" stroke="#000" stroke-width="1.3" />
<ellipse cx="263.5" cy="179.0" rx="2.0" ry="2.4" transform="rotate(-30 263.5 179.0)" fill="none" stroke="#000" stroke-width="0.7" />
<line x1="240.0" y1="192.3" x2="253.0" y2="186.0" stroke="#000" stroke-width="0.9" stroke-dasharray="5,2,1,2"/>
<path d="M258.0,163.0L258.0,156.0L259.5,154.3L261.0,156.0L261.0,162.0" fill="none" stroke="#000" stroke-width="1.2" />
<g transform="translate(0 0)"><path d="M147.7,216.3 L152.7,213 L158.9,213.8 L162.7,217.5 L163.5,222.6 L161.5,226.3 L157.7,227.6 L154.7,230 L152.7,235 L153.2,241.4 L156.4,247.6 L161.5,251.4 L164,255.1 L163.5,259.6 L159.7,261.4 L154.7,260.2 L150.2,256.4 L145.7,251.4 L142.7,245.1 L141.4,237.6 L142.2,230 L143.9,223.8 L145.7,219.5 Z" fill="#fff" stroke="#000" stroke-width="1.3" stroke-linejoin="round"/><path d="M150,216 L157,216.5 L161,220.5 L160.5,224 M156,216.5 L155.5,227.5" fill="none" stroke="#000" stroke-width="0.9"/><ellipse cx="159" cy="220.5" rx="1.8" ry="2.3" fill="#fff" stroke="#000" stroke-width="0.8"/><path d="M146.5,223 L145,230 L145.2,238 L147,245.5 L151,252 L156,257" fill="none" stroke="#000" stroke-width="0.8"/><path d="M155,253 L163,256 M157,260.5 L157.5,254" fill="none" stroke="#000" stroke-width="0.9"/><path d="M158,256 L163,257 L162.5,260 L158,259.5 Z" fill="#222"/><circle cx="141.8" cy="230" r="1" fill="#000"/><circle cx="142.2" cy="243" r="1" fill="#000"/></g>
<g transform="translate(48 -29)"><path d="M147.7,216.3 L152.7,213 L158.9,213.8 L162.7,217.5 L163.5,222.6 L161.5,226.3 L157.7,227.6 L154.7,230 L152.7,235 L153.2,241.4 L156.4,247.6 L161.5,251.4 L164,255.1 L163.5,259.6 L159.7,261.4 L154.7,260.2 L150.2,256.4 L145.7,251.4 L142.7,245.1 L141.4,237.6 L142.2,230 L143.9,223.8 L145.7,219.5 Z" fill="#fff" stroke="#000" stroke-width="1.3" stroke-linejoin="round"/><path d="M150,216 L157,216.5 L161,220.5 L160.5,224 M156,216.5 L155.5,227.5" fill="none" stroke="#000" stroke-width="0.9"/><ellipse cx="159" cy="220.5" rx="1.8" ry="2.3" fill="#fff" stroke="#000" stroke-width="0.8"/><path d="M146.5,223 L145,230 L145.2,238 L147,245.5 L151,252 L156,257" fill="none" stroke="#000" stroke-width="0.8"/><path d="M155,253 L163,256 M157,260.5 L157.5,254" fill="none" stroke="#000" stroke-width="0.9"/><path d="M158,256 L163,257 L162.5,260 L158,259.5 Z" fill="#222"/><circle cx="141.8" cy="230" r="1" fill="#000"/><circle cx="142.2" cy="243" r="1" fill="#000"/></g>
<path d="M156.6,198.3L156.6,198.1L156.6,197.9L156.7,197.7L156.7,197.5L156.8,197.3L156.9,197.1L157.0,196.8L157.1,196.7L157.3,196.5L157.4,196.3L157.6,196.1L157.7,196.0L157.9,195.9L158.1,195.8L158.3,195.7L158.5,195.6L158.7,195.5L158.9,195.5L159.1,195.5L159.3,195.5L159.5,195.5L159.7,195.5L159.9,195.6L160.1,195.7L160.3,195.7L160.5,195.9L167.5,200.9L167.6,201.0L167.8,201.1L167.9,201.3L168.0,201.4L168.1,201.6L168.2,201.8L168.3,202.0L168.3,202.2L168.4,202.4L168.4,202.7L168.4,202.9L168.4,203.1L168.3,203.3L168.3,203.5L168.2,203.7L168.1,203.9L168.0,204.2L167.9,204.3L167.7,204.5L167.6,204.7L167.4,204.9L167.3,205.0L167.1,205.1L166.9,205.2L166.7,205.3L166.5,205.4L166.3,205.5L166.1,205.5L165.9,205.5L165.7,205.5L165.5,205.5L165.3,205.5L165.1,205.4L164.9,205.3L164.7,205.3L164.5,205.1L157.5,200.1L157.4,200.0L157.2,199.9L157.1,199.7L157.0,199.6L156.9,199.4L156.8,199.2L156.7,199.0L156.7,198.8L156.6,198.6Z" fill="#fff" stroke="#000" stroke-width="1" /><ellipse cx="159.0" cy="198.0" rx="2.3" ry="2.6" transform="rotate(30 159.0 198.0)" fill="#fff" stroke="#000" stroke-width="1" />
<line x1="159.0" y1="196.0" x2="158.0" y2="200.5" stroke="#000" stroke-width="0.8" />
<line x1="161.0" y1="197.3" x2="160.0" y2="201.8" stroke="#000" stroke-width="0.8" />
<line x1="163.0" y1="198.6" x2="162.0" y2="203.1" stroke="#000" stroke-width="0.8" />
<path d="M146.4,197.0L146.5,196.6L146.5,196.1L146.6,195.7L146.8,195.2L146.9,194.8L147.1,194.3L147.4,193.9L147.6,193.5L147.9,193.1L148.2,192.7L148.5,192.4L148.9,192.1L149.2,191.8L149.6,191.5L150.0,191.3L150.4,191.1L150.8,191.0L151.2,190.9L151.6,190.8L152.0,190.8L152.3,190.8L152.7,190.9L153.1,190.9L153.4,191.1L153.8,191.2L157.8,193.7L158.1,193.9L158.3,194.2L158.6,194.4L158.8,194.7L159.0,195.1L159.2,195.4L159.3,195.8L159.4,196.2L159.5,196.6L159.6,197.0L159.6,197.5L159.5,197.9L159.5,198.4L159.4,198.8L159.2,199.3L159.1,199.7L158.9,200.2L158.6,200.6L158.4,201.0L158.1,201.4L157.8,201.8L157.5,202.1L157.1,202.4L156.8,202.7L156.4,203.0L156.0,203.2L155.6,203.4L155.2,203.5L154.8,203.6L154.4,203.7L154.0,203.7L153.7,203.7L153.3,203.6L152.9,203.6L152.6,203.4L152.2,203.3L148.2,200.8L147.9,200.6L147.7,200.3L147.4,200.1L147.2,199.8L147.0,199.4L146.8,199.1L146.7,198.7L146.6,198.3L146.5,197.9L146.4,197.5Z" fill="#fff" stroke="#000" stroke-width="1" /><ellipse cx="151.0" cy="196.0" rx="4.2" ry="5.5" transform="rotate(30 151.0 196.0)" fill="#fff" stroke="#000" stroke-width="1" />
<ellipse cx="151.0" cy="196.0" rx="4.2" ry="5.5" transform="rotate(30 151.0 196.0)" fill="#fff" stroke="#000" stroke-width="1.3" />
<ellipse cx="151.0" cy="196.0" rx="2.0" ry="2.6" transform="rotate(30 151.0 196.0)" fill="none" stroke="#000" stroke-width="0.8" />
<line x1="166.0" y1="205.0" x2="192.8" y2="219.0" stroke="#000" stroke-width="0.9" stroke-dasharray="5,2,1,2"/>
<ellipse cx="179.0" cy="212.0" rx="4.2" ry="4.8" transform="rotate(0 179.0 212.0)" fill="#fff" stroke="#000" stroke-width="1.3" />
<ellipse cx="180.0" cy="213.0" rx="1.6" ry="1.8" transform="rotate(0 180.0 213.0)" fill="#fff" stroke="#000" stroke-width="1" />
<g transform="translate(80 120) scale(0.25063)"><path d="M565,265 L590,255 L606,268 L606,290 L612,300 L621,335 L611,345 L597,322 L586,316 L576,320 L565,311 L560,290 Z" fill="#fff" stroke="#000" stroke-width="1.2" vector-effect="non-scaling-stroke" stroke-linejoin="round"/><path d="M572,283 L590,277 L592,300 L578,306 Z" fill="#333"/><path d="M590,258 L596,300" fill="none" stroke="#000" stroke-width="0.8" vector-effect="non-scaling-stroke"/></g>
<line x1="233.4" y1="194.0" x2="248.0" y2="188.5" stroke="#000" stroke-width="0.9" />
<line x1="212.0" y1="208.8" x2="224.0" y2="203.0" stroke="#000" stroke-width="0.9" />
<path d="M217.0,236.9L217.0,236.5L217.1,236.2L217.1,235.9L217.2,235.6L217.3,235.3L217.5,235.1L217.6,234.8L217.8,234.6L218.0,234.4L218.3,234.2L218.5,234.0L223.5,231.0L223.8,230.9L224.0,230.8L224.3,230.7L224.6,230.7L224.9,230.7L225.2,230.7L225.5,230.7L225.8,230.8L226.1,230.9L226.4,231.0L226.7,231.2L227.0,231.3L227.2,231.5L227.5,231.8L227.7,232.0L228.0,232.3L228.2,232.6L228.4,232.8L228.5,233.2L228.7,233.5L228.8,233.8L228.9,234.1L228.9,234.5L229.0,234.8L229.0,235.1L229.0,235.5L228.9,235.8L228.9,236.1L228.8,236.4L228.7,236.7L228.5,236.9L228.4,237.2L228.2,237.4L228.0,237.6L227.7,237.8L227.5,238.0L222.5,241.0L222.2,241.1L222.0,241.2L221.7,241.3L221.4,241.3L221.1,241.3L220.8,241.3L220.5,241.3L220.2,241.2L219.9,241.1L219.6,241.0L219.3,240.8L219.0,240.7L218.8,240.5L218.5,240.2L218.3,240.0L218.0,239.7L217.8,239.4L217.6,239.2L217.5,238.8L217.3,238.5L217.2,238.2L217.1,237.9L217.1,237.5L217.0,237.2Z" fill="#fff" stroke="#000" stroke-width="1" /><ellipse cx="220.5" cy="237.5" rx="3.3" ry="4.0" transform="rotate(-30 220.5 237.5)" fill="#fff" stroke="#000" stroke-width="1" />
<ellipse cx="220.5" cy="237.5" rx="3.3" ry="4.0" transform="rotate(-30 220.5 237.5)" fill="#fff" stroke="#000" stroke-width="1.2" />
<ellipse cx="220.5" cy="237.5" rx="1.5" ry="1.9" transform="rotate(-30 220.5 237.5)" fill="#333" stroke="none" stroke-width="0" />
<line x1="213.0" y1="236.0" x2="227.0" y2="231.0" stroke="#000" stroke-width="0.9" />
<path d="M163.5,186.5L163.5,180.0L165.5,178.0L167.5,180.0L167.5,186.5" fill="none" stroke="#000" stroke-width="1.2" />
<path d="M123.5,236.0L123.5,225.0L125.0,223.5L128.5,223.5L129.5,226.0L129.5,236.0" fill="none" stroke="#000" stroke-width="1.1" />
<line x1="125.9" y1="237.0" x2="125.9" y2="273.0" stroke="#000" stroke-width="0.9" />
<path d="M124.0,257.0L128.0,254.0L133.0,253.0L137.0,255.0L138.0,258.0L135.0,259.0L137.0,263.0L133.0,265.5L129.0,264.0L126.0,262.0Z" fill="#fff" stroke="#000" stroke-width="1.2" />
<ellipse cx="126.5" cy="259.0" rx="2.5" ry="2.5" transform="rotate(0 126.5 259.0)" fill="#111" stroke="none" stroke-width="0" />
<ellipse cx="132.0" cy="263.5" rx="2.5" ry="1.6" transform="rotate(0 132.0 263.5)" fill="#111" stroke="none" stroke-width="0" />
<g transform="translate(240 222) scale(0.13158)"><path d="M380,55 C450,55 505,80 520,130 L537,290 L528,385 L330,628 C300,660 240,686 180,683 C110,676 60,622 50,530 C42,440 70,330 130,230 C190,135 290,58 380,55 Z" fill="#fff" stroke="#000" stroke-width="1.6" vector-effect="non-scaling-stroke"/><path d="M512,125 C490,88 440,75 380,78 C295,82 205,150 150,235 C95,325 70,430 72,520 C75,600 110,650 175,662 C230,668 285,650 320,632" fill="none" stroke="#000" stroke-width="1.2" vector-effect="non-scaling-stroke"/><path d="M470,168 C430,130 360,128 290,158 C205,198 145,290 127,385 C112,470 132,560 182,612 C222,645 285,640 330,625" fill="none" stroke="#000" stroke-width="1.3" vector-effect="non-scaling-stroke"/><path d="M470,168 L515,392" fill="none" stroke="#000" stroke-width="1.1" vector-effect="non-scaling-stroke"/><g vector-effect="non-scaling-stroke"><path d="M389,97 A10,11 0 1 0 389,113" fill="none" stroke="#000" stroke-width="1" vector-effect="non-scaling-stroke"/><path d="M499,142 A10,11 0 1 0 499,158" fill="none" stroke="#000" stroke-width="1" vector-effect="non-scaling-stroke"/><path d="M524,222 A10,11 0 1 0 524,238" fill="none" stroke="#000" stroke-width="1" vector-effect="non-scaling-stroke"/><path d="M269,152 A10,11 0 1 0 269,168" fill="none" stroke="#000" stroke-width="1" vector-effect="non-scaling-stroke"/><path d="M179,262 A10,11 0 1 0 179,278" fill="none" stroke="#000" stroke-width="1" vector-effect="non-scaling-stroke"/><path d="M109,402 A10,11 0 1 0 109,418" fill="none" stroke="#000" stroke-width="1" vector-effect="non-scaling-stroke"/><path d="M104,557 A10,11 0 1 0 104,573" fill="none" stroke="#000" stroke-width="1" vector-effect="non-scaling-stroke"/><path d="M179,632 A10,11 0 1 0 179,648" fill="none" stroke="#000" stroke-width="1" vector-effect="non-scaling-stroke"/><path d="M274,632 A10,11 0 1 0 274,648" fill="none" stroke="#000" stroke-width="1" vector-effect="non-scaling-stroke"/></g></g>
<ellipse cx="295.8" cy="287.0" rx="12.5" ry="17.0" transform="rotate(22 295.8 287.0)" fill="#fff" stroke="#000" stroke-width="1.4" />
<ellipse cx="295.6" cy="287.2" rx="10.0" ry="14.5" transform="rotate(22 295.6 287.2)" fill="#fff" stroke="#000" stroke-width="1" />
<line x1="289.0" y1="284.7" x2="303.0" y2="292.8" stroke="#000" stroke-width="0.9" />
<ellipse cx="312.0" cy="266.0" rx="4.2" ry="6.0" transform="rotate(-25 312.0 266.0)" fill="#fff" stroke="#000" stroke-width="1.1" />
<ellipse cx="312.3" cy="266.0" rx="1.9" ry="2.8" transform="rotate(-25 312.3 266.0)" fill="#fff" stroke="#000" stroke-width="0.9" />
<ellipse cx="311.5" cy="277.5" rx="2.0" ry="2.6" transform="rotate(0 311.5 277.5)" fill="#fff" stroke="#000" stroke-width="1" />
<line x1="311.5" y1="236.0" x2="311.5" y2="262.0" stroke="#000" stroke-width="0.9" />
<rect x="308.2" y="217.2" width="4.6" height="4.8" rx="1" fill="#fff" stroke="#000" stroke-width="1.4"/>
<rect x="308" y="224.6" width="5" height="11.6" rx="2.2" fill="#fff" stroke="#000" stroke-width="1.1"/>
<path d="M308.4,231 L312.6,231" stroke="#000" stroke-width="0.9"/>
<rect x="308.5" y="231.2" width="4" height="4.6" rx="1.2" fill="#fff" stroke="#000" stroke-width="1.3"/>
<path d="M305.0,296.1L305.0,295.4L305.1,294.8L305.2,294.1L305.4,293.5L305.6,293.0L305.8,292.5L306.1,292.0L306.4,291.6L306.8,291.2L307.2,290.9L307.6,290.6L308.1,290.4L308.5,290.3L315.0,288.8L315.4,288.7L315.8,288.7L316.2,288.8L316.7,288.9L317.1,289.0L317.5,289.2L317.9,289.4L318.4,289.7L318.8,290.1L319.2,290.4L319.5,290.8L319.9,291.3L320.2,291.8L320.6,292.3L320.8,292.8L321.1,293.4L321.3,293.9L321.5,294.5L321.7,295.1L321.8,295.7L321.9,296.3L321.9,296.9L321.9,297.4L321.9,298.0L321.9,298.5L321.7,299.0L321.6,299.5L321.4,300.0L321.2,300.4L321.0,300.8L320.7,301.1L320.4,301.4L315.2,305.8L314.8,306.1L314.4,306.4L313.9,306.6L313.5,306.7L313.0,306.8L312.5,306.8L312.0,306.7L311.4,306.6L310.9,306.5L310.4,306.2L309.9,305.9L309.4,305.6L308.9,305.2L308.4,304.7L307.9,304.2L307.5,303.7L307.1,303.1L306.7,302.4L306.3,301.8L306.0,301.1L305.7,300.4L305.5,299.7L305.3,299.0L305.2,298.3L305.0,297.5L305.0,296.8Z" fill="#fff" stroke="#000" stroke-width="1" /><ellipse cx="311.0" cy="298.5" rx="5.6" ry="8.6" transform="rotate(-20 311.0 298.5)" fill="#fff" stroke="#000" stroke-width="1" />
<ellipse cx="311.0" cy="298.5" rx="5.6" ry="8.6" transform="rotate(-20 311.0 298.5)" fill="#fff" stroke="#000" stroke-width="1.3" />
<ellipse cx="311.8" cy="298.0" rx="2.6" ry="3.8" transform="rotate(-20 311.8 298.0)" fill="#fff" stroke="#000" stroke-width="1.1" />
<path d="M313.5,290.5 C316,292 317.5,296 316.5,301" fill="none" stroke="#000" stroke-width="0.8"/>
<g transform="translate(300 285) scale(0.12308)"><path d="M330,185 L500,268 L528,318 L482,336 L305,272 Z" fill="#fff" stroke="#000" stroke-width="1.2" vector-effect="non-scaling-stroke"/><path d="M345,232 L505,300" fill="none" stroke="#000" stroke-width="0.6" vector-effect="non-scaling-stroke"/><path d="M470,262 L455,330 M490,275 L478,333" fill="none" stroke="#000" stroke-width="0.6" vector-effect="non-scaling-stroke"/><path d="M188,150 L232,132 L300,140 L352,168 L342,222 L322,266 L272,278 L230,262 L196,222 L180,182 Z" fill="#fff" stroke="#000" stroke-width="1.3" vector-effect="non-scaling-stroke"/><path d="M290,150 C300,190 310,230 300,270" fill="none" stroke="#000" stroke-width="1" vector-effect="non-scaling-stroke"/><path d="M200,150 C225,175 230,215 210,262" fill="none" stroke="#000" stroke-width="1.5" vector-effect="non-scaling-stroke"/><path d="M214,151 C239,177 244,217 224,260" fill="none" stroke="#000" stroke-width="1.5" vector-effect="non-scaling-stroke"/><path d="M228,152 C253,179 258,219 238,258" fill="none" stroke="#000" stroke-width="1.5" vector-effect="non-scaling-stroke"/><path d="M242,153 C267,181 272,221 252,256" fill="none" stroke="#000" stroke-width="1.5" vector-effect="non-scaling-stroke"/><path d="M256,154 C281,183 286,223 266,254" fill="none" stroke="#000" stroke-width="1.5" vector-effect="non-scaling-stroke"/><path d="M270,155 C295,185 300,225 280,252" fill="none" stroke="#000" stroke-width="1.5" vector-effect="non-scaling-stroke"/><path d="M284,156 C309,187 314,227 294,250" fill="none" stroke="#000" stroke-width="1.5" vector-effect="non-scaling-stroke"/></g>
<line x1="313.0" y1="296.0" x2="380.0" y2="334.0" stroke="#000" stroke-width="0.9" />
<path d="M360.2,326.3L360.2,325.6L360.3,324.9L360.4,324.3L360.5,323.7L360.7,323.1L360.9,322.6L361.1,322.1L361.4,321.7L361.8,321.3L362.1,321.0L362.5,320.7L362.9,320.5L363.4,320.4L363.8,320.4L364.3,320.4L364.8,320.4L370.7,321.5L371.3,321.6L371.9,321.8L372.6,322.1L373.2,322.5L373.8,323.0L374.4,323.5L374.9,324.0L375.5,324.6L376.0,325.3L376.5,326.0L377.0,326.8L377.4,327.6L377.8,328.4L378.1,329.3L378.4,330.1L378.6,331.0L378.8,331.9L379.0,332.8L379.1,333.7L379.1,334.5L379.1,335.3L379.0,336.1L378.9,336.9L378.7,337.6L378.4,338.3L378.2,338.9L377.8,339.5L377.5,340.0L377.0,340.5L376.6,340.8L376.1,341.1L375.6,341.4L375.0,341.5L374.5,341.6L373.9,341.6L373.3,341.5L372.7,341.4L372.1,341.2L371.4,340.9L370.8,340.5L365.2,336.6L364.7,336.2L364.2,335.8L363.8,335.3L363.3,334.8L362.9,334.2L362.5,333.6L362.1,332.9L361.7,332.2L361.4,331.5L361.1,330.8L360.9,330.0L360.7,329.3L360.5,328.5L360.4,327.8L360.3,327.0Z" fill="#fff" stroke="#000" stroke-width="1" /><ellipse cx="366.0" cy="329.0" rx="5.2" ry="9.0" transform="rotate(-20 366.0 329.0)" fill="#fff" stroke="#000" stroke-width="1" />
<line x1="363.9" y1="319.8" x2="369.9" y2="322.3" stroke="#000" stroke-width="1.3" /><line x1="366.6" y1="320.7" x2="372.6" y2="323.2" stroke="#000" stroke-width="1.3" /><line x1="369.2" y1="323.1" x2="375.2" y2="325.6" stroke="#000" stroke-width="1.3" /><line x1="371.1" y1="326.7" x2="377.1" y2="329.2" stroke="#000" stroke-width="1.3" /><line x1="372.1" y1="330.7" x2="378.1" y2="333.2" stroke="#000" stroke-width="1.3" /><line x1="372.0" y1="334.4" x2="378.0" y2="336.9" stroke="#000" stroke-width="1.3" /><line x1="370.7" y1="337.0" x2="376.7" y2="339.5" stroke="#000" stroke-width="1.3" /><line x1="368.6" y1="338.2" x2="374.6" y2="340.7" stroke="#000" stroke-width="1.3" />
<ellipse cx="366.0" cy="329.0" rx="5.0" ry="8.7" transform="rotate(-20 366.0 329.0)" fill="#fff" stroke="#000" stroke-width="1.2" />
<ellipse cx="366.3" cy="329.0" rx="2.5" ry="4.4" transform="rotate(-20 366.3 329.0)" fill="#222" stroke="none" stroke-width="0" />
<path d="M377.6,336.0L377.7,335.4L377.8,334.8L377.9,334.2L378.0,333.7L378.2,333.2L378.4,332.8L378.7,332.3L379.0,332.0L379.3,331.6L379.7,331.4L380.0,331.1L380.4,331.0L380.9,330.8L381.3,330.8L381.7,330.7L382.2,330.8L382.7,330.9L383.1,331.0L383.6,331.2L384.1,331.5L389.1,334.5L389.5,334.8L390.0,335.2L390.4,335.6L390.8,336.0L391.2,336.5L391.5,337.0L391.9,337.5L392.2,338.1L392.5,338.7L392.7,339.3L392.9,339.9L393.1,340.5L393.2,341.2L393.3,341.8L393.3,342.4L393.4,343.0L393.3,343.6L393.2,344.2L393.1,344.8L393.0,345.3L392.8,345.8L392.6,346.2L392.3,346.7L392.0,347.0L391.7,347.4L391.3,347.6L391.0,347.9L390.6,348.0L390.1,348.2L389.7,348.2L389.3,348.3L388.8,348.2L388.3,348.1L387.9,348.0L387.4,347.8L386.9,347.5L381.9,344.5L381.5,344.2L381.0,343.8L380.6,343.4L380.2,343.0L379.8,342.5L379.5,342.0L379.1,341.5L378.8,340.9L378.5,340.3L378.3,339.7L378.1,339.1L377.9,338.5L377.8,337.8L377.7,337.2L377.7,336.6Z" fill="#fff" stroke="#000" stroke-width="1" /><ellipse cx="383.0" cy="338.0" rx="5.0" ry="7.5" transform="rotate(-20 383.0 338.0)" fill="#fff" stroke="#000" stroke-width="1" />
<ellipse cx="383.0" cy="338.0" rx="5.0" ry="7.5" transform="rotate(-20 383.0 338.0)" fill="#fff" stroke="#000" stroke-width="1.3" />
<ellipse cx="383.5" cy="338.5" rx="2.5" ry="3.7" transform="rotate(-20 383.5 338.5)" fill="#fff" stroke="#000" stroke-width="1" />
<ellipse cx="395.0" cy="342.5" rx="4.5" ry="6.0" transform="rotate(-20 395.0 342.5)" fill="#fff" stroke="#000" stroke-width="1.3" />
<ellipse cx="395.3" cy="342.5" rx="2.0" ry="2.7" transform="rotate(-20 395.3 342.5)" fill="#fff" stroke="#000" stroke-width="1" />
<path d="M397.7,349.3L397.7,348.3L397.8,347.5L398.0,346.6L398.2,345.7L398.5,345.0L398.8,344.2L399.2,343.5L399.7,342.9L400.2,342.3L400.8,341.8L401.4,341.3L402.1,341.0L402.7,340.7L403.4,340.4L404.2,340.3L404.9,340.3L405.7,340.3L406.5,340.4L407.2,340.6L408.0,340.9L411.5,342.4L412.3,342.7L413.0,343.1L413.7,343.6L414.4,344.2L415.0,344.8L415.6,345.5L416.2,346.2L416.7,347.0L417.2,347.8L417.6,348.7L418.0,349.6L418.3,350.5L418.5,351.4L418.7,352.4L418.8,353.3L418.8,354.2L418.8,355.2L418.7,356.0L418.5,356.9L418.3,357.8L418.0,358.5L417.7,359.3L417.3,360.0L416.8,360.6L416.3,361.2L415.7,361.7L415.1,362.2L414.4,362.5L413.8,362.8L413.1,363.1L412.3,363.2L411.6,363.2L410.8,363.2L410.0,363.1L409.3,362.9L408.5,362.6L405.0,361.1L404.2,360.8L403.5,360.4L402.8,359.9L402.1,359.3L401.5,358.7L400.9,358.0L400.3,357.3L399.8,356.5L399.3,355.7L398.9,354.8L398.5,353.9L398.2,353.0L398.0,352.1L397.8,351.1L397.7,350.2Z" fill="#fff" stroke="#000" stroke-width="1" /><ellipse cx="406.5" cy="351.0" rx="8.5" ry="11.0" transform="rotate(-20 406.5 351.0)" fill="#fff" stroke="#000" stroke-width="1" />
<ellipse cx="406.5" cy="351.0" rx="8.5" ry="11.0" transform="rotate(-20 406.5 351.0)" fill="#fff" stroke="#000" stroke-width="1.3" />
<ellipse cx="407.0" cy="351.3" rx="6.2" ry="8.5" transform="rotate(-20 407.0 351.3)" fill="#fff" stroke="#000" stroke-width="1.1" />
<ellipse cx="407.5" cy="352.0" rx="3.0" ry="4.0" transform="rotate(-20 407.5 352.0)" fill="#222" stroke="none" stroke-width="0" />
<line x1="402.0" y1="348.5" x2="413.0" y2="355.0" stroke="#000" stroke-width="1.2" />
<path d="M411.9,361.4L411.9,360.0L412.1,358.7L412.3,357.3L412.6,356.0L413.0,354.8L413.5,353.6L414.0,352.5L414.7,351.4L415.4,350.5L416.1,349.6L417.0,348.8L417.8,348.2L418.8,347.6L419.7,347.2L420.7,346.9L421.8,346.7L422.8,346.6L423.9,346.6L424.9,346.8L426.0,347.0L427.0,347.4L444.0,353.9L445.0,354.4L446.0,355.1L446.9,355.8L447.8,356.6L448.7,357.5L449.5,358.5L450.2,359.6L450.8,360.8L451.4,362.0L451.9,363.3L452.3,364.6L452.6,366.0L452.9,367.3L453.0,368.7L453.1,370.1L453.1,371.5L452.9,372.8L452.7,374.2L452.4,375.5L452.0,376.7L451.5,377.9L451.0,379.0L450.3,380.1L449.6,381.0L448.9,381.9L448.0,382.7L447.2,383.3L446.2,383.9L445.3,384.3L444.3,384.6L443.2,384.8L442.2,384.9L441.1,384.9L440.1,384.7L439.0,384.5L438.0,384.1L421.0,377.6L420.0,377.1L419.0,376.4L418.1,375.7L417.2,374.9L416.3,374.0L415.5,373.0L414.8,371.9L414.2,370.7L413.6,369.5L413.1,368.2L412.7,366.9L412.4,365.5L412.1,364.2L412.0,362.8Z" fill="#fff" stroke="#000" stroke-width="1" /><ellipse cx="441.0" cy="369.0" rx="12.0" ry="16.0" transform="rotate(-8 441.0 369.0)" fill="#fff" stroke="#000" stroke-width="1" />
<path d="M436.9,352.4 A12,16 -8 0 0 440.1,384.2" fill="none" stroke="#000" stroke-width="2.2"/>
<path d="M434.8,351.6 A12,16 -8 0 0 437.9,383.4" fill="none" stroke="#000" stroke-width="1.2"/>
<path d="M432.6,350.8 A12,16 -8 0 0 435.8,382.6" fill="none" stroke="#000" stroke-width="2.2"/>
<path d="M430.5,349.9 A12,16 -8 0 0 433.7,381.8" fill="none" stroke="#000" stroke-width="1.2"/>
<path d="M428.4,349.1 A12,16 -8 0 0 431.6,380.9" fill="none" stroke="#000" stroke-width="2.2"/>
<path d="M426.2,348.3 A12,16 -8 0 0 429.4,380.1" fill="none" stroke="#000" stroke-width="1.2"/>
<path d="M424.1,347.5 A12,16 -8 0 0 427.3,379.3" fill="none" stroke="#000" stroke-width="2.2"/>
<ellipse cx="441.0" cy="369.0" rx="12.0" ry="16.0" transform="rotate(-8 441.0 369.0)" fill="#fff" stroke="#000" stroke-width="1.4" />
<ellipse cx="442.0" cy="370.0" rx="6.0" ry="7.8" transform="rotate(-8 442.0 370.0)" fill="#fff" stroke="#000" stroke-width="1.2" />
<ellipse cx="442.0" cy="370.2" rx="4.5" ry="6.0" transform="rotate(-8 442.0 370.2)" fill="#444" stroke="none" stroke-width="0" />
<line x1="400.0" y1="343.0" x2="600.0" y2="462.0" stroke="#000" stroke-width="0.9" />
<ellipse cx="462.0" cy="386.0" rx="8.0" ry="15.6" transform="rotate(-10 462.0 386.0)" fill="#fff" stroke="#000" stroke-width="1.3" />
<path d="M456.1,383.3L456.1,381.9L456.1,380.6L456.3,379.4L456.6,378.1L456.9,377.0L457.3,375.9L457.8,374.9L458.3,374.0L459.0,373.1L459.6,372.4L460.4,371.8L461.2,371.3L462.0,370.8L462.9,370.5L463.8,370.4L464.7,370.3L465.6,370.4L466.6,370.5L476.1,372.5L477.0,372.8L478.0,373.3L478.9,373.8L479.8,374.4L480.7,375.2L481.6,376.0L482.4,376.9L483.2,377.9L483.9,379.0L484.6,380.2L485.2,381.4L485.8,382.6L486.2,383.9L486.6,385.3L487.0,386.6L487.2,388.0L487.4,389.4L487.4,390.7L487.4,392.1L487.4,393.4L487.2,394.6L486.9,395.9L486.6,397.0L486.2,398.1L485.7,399.1L485.2,400.0L484.5,400.9L483.9,401.6L483.1,402.2L482.3,402.7L481.5,403.2L480.6,403.5L479.7,403.6L478.8,403.7L477.9,403.6L476.9,403.5L467.4,401.5L466.5,401.2L465.5,400.7L464.6,400.2L463.7,399.6L462.8,398.8L461.9,398.0L461.1,397.1L460.3,396.1L459.6,395.0L458.9,393.8L458.3,392.6L457.7,391.4L457.3,390.1L456.9,388.7L456.5,387.4L456.3,386.0L456.1,384.6Z" fill="#fff" stroke="#000" stroke-width="1" /><ellipse cx="476.5" cy="388.0" rx="10.5" ry="16.0" transform="rotate(-15 476.5 388.0)" fill="#fff" stroke="#000" stroke-width="1" />
<ellipse cx="476.5" cy="388.0" rx="10.5" ry="16.0" transform="rotate(-15 476.5 388.0)" fill="#fff" stroke="#000" stroke-width="1.3" />
<ellipse cx="479.5" cy="389.0" rx="7.0" ry="11.0" transform="rotate(-15 479.5 389.0)" fill="#fff" stroke="#000" stroke-width="1.2" />
<ellipse cx="480.0" cy="389.0" rx="5.5" ry="9.0" transform="rotate(-15 480.0 389.0)" fill="none" stroke="#444" stroke-width="0.9" />
<line x1="472.0" y1="381.0" x2="486.0" y2="395.0" stroke="#000" stroke-width="0.9" />
<path d="M488.7,398.0L488.7,397.3L488.8,396.6L488.9,395.9L489.1,395.2L489.3,394.6L489.5,394.0L489.8,393.5L490.2,392.9L490.6,392.5L491.0,392.1L491.5,391.7L492.0,391.5L492.5,391.2L493.0,391.1L493.6,391.0L494.2,390.9L494.8,391.0L495.4,391.1L495.9,391.2L496.5,391.5L500.0,393.0L500.6,393.2L501.2,393.6L501.7,394.0L502.3,394.4L502.8,394.9L503.3,395.5L503.7,396.1L504.1,396.7L504.5,397.4L504.8,398.1L505.1,398.8L505.3,399.5L505.5,400.2L505.7,401.0L505.8,401.7L505.8,402.5L505.8,403.2L505.7,403.9L505.6,404.6L505.4,405.3L505.2,405.9L505.0,406.5L504.7,407.0L504.3,407.6L503.9,408.0L503.5,408.4L503.0,408.8L502.5,409.0L502.0,409.3L501.5,409.4L500.9,409.5L500.3,409.6L499.7,409.5L499.1,409.4L498.6,409.3L498.0,409.0L494.5,407.5L493.9,407.3L493.3,406.9L492.8,406.5L492.2,406.1L491.7,405.6L491.2,405.0L490.8,404.4L490.4,403.8L490.0,403.1L489.7,402.4L489.4,401.7L489.2,401.0L489.0,400.3L488.8,399.5L488.7,398.8Z" fill="#fff" stroke="#000" stroke-width="1" /><ellipse cx="495.5" cy="399.5" rx="6.5" ry="8.8" transform="rotate(-20 495.5 399.5)" fill="#fff" stroke="#000" stroke-width="1" />
<ellipse cx="495.5" cy="399.5" rx="6.5" ry="8.8" transform="rotate(-20 495.5 399.5)" fill="#fff" stroke="#000" stroke-width="1.3" />
<ellipse cx="496.0" cy="400.0" rx="4.2" ry="6.0" transform="rotate(-20 496.0 400.0)" fill="#fff" stroke="#000" stroke-width="1" />
<path d="M505.7,407.5L505.7,406.8L505.7,406.1L505.8,405.4L506.0,404.8L506.1,404.2L506.4,403.6L506.7,403.1L507.0,402.6L507.3,402.2L507.7,401.8L508.2,401.5L508.6,401.2L509.1,401.0L509.6,400.9L510.1,400.8L510.7,400.8L511.2,400.8L511.7,400.9L512.3,401.1L512.9,401.3L515.9,402.8L516.4,403.1L516.9,403.4L517.5,403.8L518.0,404.2L518.4,404.7L518.9,405.3L519.3,405.8L519.7,406.5L520.0,407.1L520.4,407.8L520.6,408.4L520.9,409.2L521.1,409.9L521.2,410.6L521.3,411.3L521.3,412.0L521.3,412.7L521.3,413.4L521.2,414.1L521.0,414.7L520.9,415.3L520.6,415.9L520.3,416.4L520.0,416.9L519.7,417.3L519.3,417.7L518.8,418.0L518.4,418.3L517.9,418.5L517.4,418.6L516.9,418.7L516.3,418.7L515.8,418.7L515.3,418.6L514.7,418.4L514.1,418.2L511.1,416.7L510.6,416.4L510.1,416.1L509.5,415.7L509.0,415.3L508.6,414.8L508.1,414.2L507.7,413.7L507.3,413.0L507.0,412.4L506.6,411.7L506.4,411.1L506.1,410.3L505.9,409.6L505.8,408.9L505.7,408.2Z" fill="#fff" stroke="#000" stroke-width="1" /><ellipse cx="512.0" cy="409.0" rx="6.0" ry="8.5" transform="rotate(-20 512.0 409.0)" fill="#fff" stroke="#000" stroke-width="1" />
<ellipse cx="512.0" cy="409.0" rx="6.0" ry="8.5" transform="rotate(-20 512.0 409.0)" fill="#fff" stroke="#000" stroke-width="1.3" />
<ellipse cx="512.5" cy="409.0" rx="3.2" ry="4.5" transform="rotate(-20 512.5 409.0)" fill="#fff" stroke="#000" stroke-width="1" />
<path d="M472.9,407.8L472.9,407.5L473.0,407.1L473.0,406.7L473.1,406.3L473.3,406.0L473.4,405.6L473.6,405.3L473.8,405.0L474.0,404.7L474.3,404.5L474.5,404.3L474.8,404.1L475.1,403.9L475.5,403.8L475.8,403.7L476.1,403.6L476.5,403.6L476.8,403.6L477.2,403.6L477.5,403.7L477.9,403.8L478.2,403.9L478.6,404.0L480.6,405.0L480.9,405.2L481.2,405.5L481.5,405.7L481.8,406.0L482.0,406.3L482.2,406.6L482.4,406.9L482.6,407.3L482.8,407.6L482.9,408.0L483.0,408.4L483.0,408.8L483.1,409.2L483.1,409.5L483.0,409.9L483.0,410.3L482.9,410.7L482.7,411.0L482.6,411.4L482.4,411.7L482.2,412.0L482.0,412.3L481.7,412.5L481.5,412.7L481.2,412.9L480.9,413.1L480.5,413.2L480.2,413.3L479.9,413.4L479.5,413.4L479.2,413.4L478.8,413.4L478.5,413.3L478.1,413.2L477.8,413.1L477.4,413.0L475.4,412.0L475.1,411.8L474.8,411.5L474.5,411.3L474.2,411.0L474.0,410.7L473.8,410.4L473.6,410.1L473.4,409.7L473.2,409.4L473.1,409.0L473.0,408.6L473.0,408.2Z" fill="#fff" stroke="#000" stroke-width="1" /><ellipse cx="477.0" cy="408.0" rx="4.0" ry="4.5" transform="rotate(-20 477.0 408.0)" fill="#fff" stroke="#000" stroke-width="1" />
<ellipse cx="477.0" cy="408.0" rx="4.0" ry="4.5" transform="rotate(-20 477.0 408.0)" fill="#fff" stroke="#000" stroke-width="1.2" />
<ellipse cx="477.0" cy="408.0" rx="1.8" ry="2.0" transform="rotate(-20 477.0 408.0)" fill="#fff" stroke="#000" stroke-width="0.8" />
<path d="M485.1,412.5L485.1,412.3L485.2,412.0L485.2,411.7L485.3,411.5L485.4,411.2L485.5,411.0L485.7,410.8L485.8,410.6L486.0,410.4L486.2,410.3L486.4,410.1L486.6,410.0L486.8,409.9L487.1,409.8L487.3,409.8L487.6,409.8L487.8,409.8L488.1,409.8L488.3,409.9L488.6,409.9L488.8,410.0L496.8,414.0L497.0,414.2L497.3,414.3L497.5,414.5L497.7,414.7L497.9,414.9L498.1,415.1L498.3,415.3L498.4,415.6L498.5,415.8L498.6,416.1L498.7,416.4L498.8,416.6L498.9,416.9L498.9,417.2L498.9,417.5L498.9,417.7L498.8,418.0L498.8,418.3L498.7,418.5L498.6,418.8L498.5,419.0L498.3,419.2L498.2,419.4L498.0,419.6L497.8,419.7L497.6,419.9L497.4,420.0L497.2,420.1L496.9,420.2L496.7,420.2L496.4,420.2L496.2,420.2L495.9,420.2L495.7,420.1L495.4,420.1L495.2,420.0L487.2,416.0L487.0,415.8L486.7,415.7L486.5,415.5L486.3,415.3L486.1,415.1L485.9,414.9L485.7,414.7L485.6,414.4L485.5,414.2L485.4,413.9L485.3,413.6L485.2,413.4L485.1,413.1L485.1,412.8Z" fill="#fff" stroke="#000" stroke-width="1" /><ellipse cx="488.0" cy="413.0" rx="2.8" ry="3.3" transform="rotate(-25 488.0 413.0)" fill="#fff" stroke="#000" stroke-width="1" />
<line x1="487.0" y1="410.0" x2="486.0" y2="415.5" stroke="#000" stroke-width="0.8" />
<line x1="489.0" y1="411.0" x2="488.0" y2="416.5" stroke="#000" stroke-width="0.8" />
<line x1="491.0" y1="412.0" x2="490.0" y2="417.5" stroke="#000" stroke-width="0.8" />
<line x1="493.0" y1="413.0" x2="492.0" y2="418.5" stroke="#000" stroke-width="0.8" />
<path d="M493.5,417.1L493.5,416.6L493.5,416.2L493.6,415.8L493.7,415.3L493.9,415.0L494.0,414.6L494.2,414.3L494.5,413.9L494.7,413.7L495.0,413.4L495.3,413.2L495.7,413.0L496.0,412.9L496.4,412.8L496.8,412.7L497.1,412.7L497.5,412.7L497.9,412.8L498.3,412.9L498.7,413.0L499.1,413.2L499.5,413.4L502.5,415.4L502.9,415.7L503.2,415.9L503.5,416.2L503.9,416.6L504.2,417.0L504.4,417.3L504.7,417.8L504.9,418.2L505.1,418.6L505.2,419.1L505.4,419.5L505.5,420.0L505.5,420.5L505.5,420.9L505.5,421.4L505.5,421.8L505.4,422.2L505.3,422.7L505.1,423.0L505.0,423.4L504.8,423.7L504.5,424.1L504.3,424.3L504.0,424.6L503.7,424.8L503.3,425.0L503.0,425.1L502.6,425.2L502.2,425.3L501.9,425.3L501.5,425.3L501.1,425.2L500.7,425.1L500.3,425.0L499.9,424.8L499.5,424.6L496.5,422.6L496.1,422.3L495.8,422.1L495.5,421.8L495.1,421.4L494.8,421.0L494.6,420.7L494.3,420.2L494.1,419.8L493.9,419.4L493.8,418.9L493.6,418.5L493.5,418.0L493.5,417.5Z" fill="#fff" stroke="#000" stroke-width="1" /><ellipse cx="498.0" cy="418.0" rx="4.3" ry="5.5" transform="rotate(-25 498.0 418.0)" fill="#fff" stroke="#000" stroke-width="1" />
<ellipse cx="498.0" cy="418.0" rx="4.3" ry="5.5" transform="rotate(-25 498.0 418.0)" fill="#fff" stroke="#000" stroke-width="1.2" />
<path d="M518.7,416.3L518.7,415.3L518.8,414.5L519.0,413.6L519.2,412.7L519.5,412.0L519.8,411.2L520.2,410.5L520.7,409.9L521.2,409.3L521.8,408.8L522.4,408.3L523.1,408.0L523.7,407.7L524.4,407.4L525.2,407.3L525.9,407.3L526.7,407.3L527.5,407.4L528.2,407.6L529.0,407.9L529.8,408.2L530.5,408.6L531.2,409.1L533.2,410.6L533.9,411.2L534.5,411.8L535.1,412.5L535.7,413.2L536.2,414.0L536.7,414.8L537.1,415.7L537.5,416.6L537.8,417.5L538.0,418.4L538.2,419.4L538.3,420.3L538.3,421.2L538.3,422.2L538.2,423.0L538.0,423.9L537.8,424.8L537.5,425.5L537.2,426.3L536.8,427.0L536.3,427.6L535.8,428.2L535.2,428.7L534.6,429.2L533.9,429.5L533.3,429.8L532.6,430.1L531.8,430.2L531.1,430.2L530.3,430.2L529.5,430.1L528.8,429.9L528.0,429.6L527.2,429.3L526.5,428.9L525.8,428.4L523.8,426.9L523.1,426.3L522.5,425.7L521.9,425.0L521.3,424.3L520.8,423.5L520.3,422.7L519.9,421.8L519.5,420.9L519.2,420.0L519.0,419.1L518.8,418.1L518.7,417.2Z" fill="#222" stroke="#000" stroke-width="1" /><ellipse cx="527.5" cy="418.0" rx="8.5" ry="11.0" transform="rotate(-20 527.5 418.0)" fill="#222" stroke="#000" stroke-width="1" />
<ellipse cx="529.0" cy="418.5" rx="7.5" ry="10.0" transform="rotate(-20 529.0 418.5)" fill="#fff" stroke="#000" stroke-width="1.2" />
<ellipse cx="529.5" cy="418.5" rx="1.8" ry="2.3" transform="rotate(-20 529.5 418.5)" fill="#fff" stroke="#000" stroke-width="1" />
<g transform="translate(535 405) scale(0.07692)"><path d="M80,240 C90,210 130,205 160,220 L160,350 C130,355 95,345 82,300 Z" fill="#fff" stroke="#000" stroke-width="1.3" vector-effect="non-scaling-stroke"/><path d="M120,215 L200,195 L300,205 L420,270 L500,330 L520,400 L500,450 L440,470 L390,460 L370,520 L330,545 L260,540 L180,500 L140,450 L130,380 L140,300 Z" fill="#fff" stroke="#000" stroke-width="1.3" vector-effect="non-scaling-stroke"/><path d="M215,300 C240,255 300,240 360,262 C420,290 470,340 490,390" fill="none" stroke="#000" stroke-width="1.2" vector-effect="non-scaling-stroke"/><path d="M200,320 C260,330 320,370 345,430 C360,470 360,500 350,520" fill="none" stroke="#000" stroke-width="1.1" vector-effect="non-scaling-stroke"/><circle cx="280" cy="318" r="14" fill="#000"/><circle cx="420" cy="400" r="12" fill="none" stroke="#000" stroke-width="1" vector-effect="non-scaling-stroke"/><circle cx="290" cy="475" r="12" fill="none" stroke="#000" stroke-width="1" vector-effect="non-scaling-stroke"/></g>
<ellipse cx="580.5" cy="449.5" rx="3.5" ry="4.4" transform="rotate(-20 580.5 449.5)" fill="#fff" stroke="#000" stroke-width="1.5" />
<ellipse cx="580.5" cy="449.5" rx="1.5" ry="1.9" transform="rotate(-20 580.5 449.5)" fill="#fff" stroke="#000" stroke-width="0.8" />
<path d="M589.2,456.9L589.3,456.5L589.3,456.1L589.4,455.7L589.5,455.3L589.7,455.0L589.9,454.6L590.1,454.3L590.3,454.0L590.6,453.8L590.9,453.5L591.2,453.3L591.5,453.1L591.9,453.0L592.2,452.9L592.6,452.8L592.9,452.8L593.3,452.8L593.7,452.8L594.1,452.9L594.4,453.0L594.8,453.1L595.1,453.3L597.1,454.3L597.5,454.5L597.8,454.7L598.1,455.0L598.4,455.3L598.6,455.6L598.9,455.9L599.1,456.3L599.3,456.7L599.4,457.1L599.6,457.5L599.7,457.9L599.7,458.3L599.8,458.7L599.8,459.1L599.7,459.5L599.7,459.9L599.6,460.3L599.5,460.7L599.3,461.0L599.1,461.4L598.9,461.7L598.7,462.0L598.4,462.2L598.1,462.5L597.8,462.7L597.5,462.9L597.1,463.0L596.8,463.1L596.4,463.2L596.1,463.2L595.7,463.2L595.3,463.2L594.9,463.1L594.6,463.0L594.2,462.9L593.9,462.7L591.9,461.7L591.5,461.5L591.2,461.3L590.9,461.0L590.6,460.7L590.4,460.4L590.1,460.1L589.9,459.7L589.7,459.3L589.6,458.9L589.4,458.5L589.3,458.1L589.3,457.7L589.2,457.3Z" fill="#fff" stroke="#000" stroke-width="1" /><ellipse cx="593.5" cy="457.5" rx="4.2" ry="4.8" transform="rotate(-20 593.5 457.5)" fill="#fff" stroke="#000" stroke-width="1" />
<ellipse cx="593.5" cy="457.5" rx="4.2" ry="4.8" transform="rotate(-20 593.5 457.5)" fill="#fff" stroke="#000" stroke-width="1.4" />
<ellipse cx="593.5" cy="457.5" rx="1.8" ry="2.1" transform="rotate(-20 593.5 457.5)" fill="#fff" stroke="#000" stroke-width="0.9" />
<g transform="translate(320 260) scale(0.13850)"><path d="M60,72 C80,68 100,78 95,92 C85,100 65,98 58,108 C52,122 62,135 80,136 C100,137 118,128 128,122 C138,128 130,145 126,158 C124,172 135,182 160,183 C180,184 195,178 200,170" fill="none" stroke="#000" stroke-width="1.2" vector-effect="non-scaling-stroke"/><path d="M62,84 C75,82 85,86 82,92 M130,132 C140,140 138,150 136,160" fill="none" stroke="#000" stroke-width="1" vector-effect="non-scaling-stroke"/></g>
<path d="M344.7,278.3L344.7,278.1L344.7,277.9L344.7,277.8L344.8,277.6L344.8,277.5L344.9,277.3L345.0,277.2L345.1,277.1L345.2,277.0L345.3,276.9L350.3,274.4L350.4,274.4L350.6,274.3L350.7,274.3L350.8,274.3L351.0,274.3L351.2,274.3L351.3,274.3L351.5,274.4L351.6,274.5L351.8,274.6L351.9,274.7L352.1,274.8L352.2,274.9L352.4,275.0L352.5,275.2L352.7,275.4L352.8,275.5L352.9,275.7L353.0,275.9L353.1,276.1L353.1,276.3L353.2,276.5L353.3,276.7L353.3,276.8L353.3,277.0L353.3,277.2L353.3,277.4L353.3,277.6L353.3,277.7L353.2,277.9L353.2,278.0L353.1,278.2L353.0,278.3L352.9,278.4L352.8,278.5L352.7,278.6L347.7,281.1L347.6,281.1L347.4,281.2L347.3,281.2L347.2,281.2L347.0,281.2L346.8,281.2L346.7,281.2L346.5,281.1L346.4,281.0L346.2,280.9L346.1,280.8L345.9,280.7L345.8,280.6L345.6,280.5L345.5,280.3L345.3,280.1L345.2,280.0L345.1,279.8L345.0,279.6L344.9,279.4L344.9,279.2L344.8,279.0L344.7,278.8L344.7,278.7L344.7,278.5Z" fill="#fff" stroke="#000" stroke-width="1" /><ellipse cx="346.5" cy="279.0" rx="1.6" ry="2.4" transform="rotate(-30 346.5 279.0)" fill="#fff" stroke="#000" stroke-width="1" />
<line x1="346.0" y1="276.5" x2="347.5" y2="280.5" stroke="#000" stroke-width="0.9" />
<line x1="347.8" y1="275.6" x2="349.3" y2="279.6" stroke="#000" stroke-width="0.9" />
<line x1="349.6" y1="274.7" x2="351.1" y2="278.7" stroke="#000" stroke-width="0.9" />
<path d="M349.6,288.5L349.6,287.8L349.7,287.1L349.8,286.5L350.0,285.8L350.2,285.2L350.5,284.7L350.8,284.2L351.2,283.8L351.6,283.4L352.0,283.0L352.4,282.8L356.4,280.8L356.9,280.5L357.4,280.4L357.9,280.3L358.5,280.3L359.0,280.4L359.6,280.5L360.2,280.6L360.7,280.9L361.3,281.2L361.8,281.6L362.3,282.0L362.9,282.5L363.3,283.0L363.8,283.6L364.2,284.2L364.6,284.8L365.0,285.5L365.3,286.2L365.6,286.9L365.9,287.7L366.1,288.4L366.2,289.2L366.4,290.0L366.4,290.7L366.4,291.5L366.4,292.2L366.3,292.9L366.2,293.5L366.0,294.2L365.8,294.8L365.5,295.3L365.2,295.8L364.8,296.2L364.4,296.6L364.0,297.0L363.6,297.2L359.6,299.2L359.1,299.5L358.6,299.6L358.1,299.7L357.5,299.7L357.0,299.6L356.4,299.5L355.8,299.4L355.3,299.1L354.7,298.8L354.2,298.4L353.7,298.0L353.1,297.5L352.7,297.0L352.2,296.4L351.8,295.8L351.4,295.2L351.0,294.5L350.7,293.8L350.4,293.1L350.1,292.3L349.9,291.6L349.8,290.8L349.6,290.0L349.6,289.3Z" fill="#fff" stroke="#000" stroke-width="1" /><ellipse cx="356.0" cy="291.0" rx="6.0" ry="9.0" transform="rotate(-20 356.0 291.0)" fill="#fff" stroke="#000" stroke-width="1" />
<ellipse cx="356.0" cy="291.0" rx="6.0" ry="9.0" transform="rotate(-20 356.0 291.0)" fill="#fff" stroke="#000" stroke-width="1.6" />
<ellipse cx="356.5" cy="291.0" rx="3.2" ry="4.8" transform="rotate(-20 356.5 291.0)" fill="#fff" stroke="#000" stroke-width="1.2" />
<ellipse cx="355.5" cy="293.0" rx="1.5" ry="2.0" transform="rotate(0 355.5 293.0)" fill="#111" stroke="none" stroke-width="0" />
<ellipse cx="358.0" cy="288.5" rx="1.2" ry="1.6" transform="rotate(0 358.0 288.5)" fill="#111" stroke="none" stroke-width="0" />
<path d="M364.0,296.4L364.0,296.1L364.0,295.8L364.1,295.5L364.2,295.2L364.3,295.0L364.4,294.7L364.5,294.5L364.7,294.3L364.9,294.1L365.1,294.0L365.3,293.9L365.5,293.8L372.5,291.3L372.8,291.2L373.0,291.2L373.3,291.2L373.5,291.2L373.8,291.3L374.1,291.4L374.3,291.5L374.6,291.6L374.9,291.8L375.1,292.0L375.4,292.2L375.6,292.4L375.8,292.6L376.0,292.9L376.2,293.2L376.4,293.5L376.5,293.8L376.7,294.1L376.8,294.5L376.9,294.8L377.0,295.1L377.0,295.5L377.0,295.8L377.0,296.1L377.0,296.4L377.0,296.7L376.9,297.0L376.8,297.3L376.7,297.5L376.6,297.8L376.5,298.0L376.3,298.2L376.1,298.4L375.9,298.5L375.7,298.6L375.5,298.7L368.5,301.2L368.2,301.3L368.0,301.3L367.7,301.3L367.5,301.3L367.2,301.2L366.9,301.1L366.7,301.0L366.4,300.9L366.1,300.7L365.9,300.5L365.6,300.3L365.4,300.1L365.2,299.9L365.0,299.6L364.8,299.3L364.6,299.0L364.5,298.7L364.3,298.4L364.2,298.0L364.1,297.7L364.0,297.4L364.0,297.0L364.0,296.7Z" fill="#fff" stroke="#000" stroke-width="1" /><ellipse cx="367.0" cy="297.5" rx="2.8" ry="4.0" transform="rotate(-25 367.0 297.5)" fill="#fff" stroke="#000" stroke-width="1" />
<line x1="367.0" y1="294.0" x2="368.0" y2="300.5" stroke="#000" stroke-width="1" />
<line x1="368.8" y1="293.4" x2="369.8" y2="299.9" stroke="#000" stroke-width="1" />
<line x1="370.6" y1="292.8" x2="371.6" y2="299.3" stroke="#000" stroke-width="1" />
<line x1="372.4" y1="292.2" x2="373.4" y2="298.7" stroke="#000" stroke-width="1" />
<ellipse cx="381.0" cy="296.0" rx="4.0" ry="4.5" transform="rotate(-20 381.0 296.0)" fill="#fff" stroke="#000" stroke-width="1.3" />
<ellipse cx="381.3" cy="296.0" rx="1.7" ry="2.0" transform="rotate(-20 381.3 296.0)" fill="#fff" stroke="#000" stroke-width="0.9" />
<ellipse cx="397.0" cy="306.5" rx="3.8" ry="4.5" transform="rotate(-20 397.0 306.5)" fill="#fff" stroke="#000" stroke-width="1.5" />
<ellipse cx="397.0" cy="306.5" rx="1.8" ry="2.2" transform="rotate(-20 397.0 306.5)" fill="#222" stroke="none" stroke-width="0" />
<line x1="338.0" y1="275.0" x2="410.0" y2="313.0" stroke="#000" stroke-width="0.9" stroke-dasharray="5,2,1,2"/>
<line x1="320.0" y1="262.0" x2="345.0" y2="276.0" stroke="#000" stroke-width="0.9" stroke-dasharray="5,2,1,2"/>
<line x1="238.0" y1="459.0" x2="303.0" y2="423.0" stroke="#000" stroke-width="0.9" />
<ellipse cx="283.5" cy="465.0" rx="32.2" ry="45.8" transform="rotate(-26 283.5 465.0)" fill="#fff" stroke="#000" stroke-width="1.4" />
<path d="M297.2,457.8L310.1,457.4L311.5,461.3L298.5,460.7Z" fill="#111" stroke="none" stroke-width="0" /><path d="M299.2,462.3L312.2,463.5L313.1,467.5L300.3,465.3Z" fill="#111" stroke="none" stroke-width="0" /><path d="M300.8,466.9L313.5,469.7L314.0,473.6L301.6,469.8Z" fill="#111" stroke="none" stroke-width="0" /><path d="M301.9,471.5L314.1,475.7L314.1,479.5L302.4,474.3Z" fill="#111" stroke="none" stroke-width="0" /><path d="M302.6,475.9L314.0,481.6L313.6,485.1L302.8,478.6Z" fill="#111" stroke="none" stroke-width="0" /><path d="M302.9,480.1L313.2,487.1L312.3,490.3L302.8,482.6Z" fill="#111" stroke="none" stroke-width="0" /><path d="M302.6,483.9L311.6,492.0L310.3,494.9L302.2,486.2Z" fill="#111" stroke="none" stroke-width="0" /><path d="M301.9,487.4L309.4,496.4L307.7,498.9L301.2,489.3Z" fill="#111" stroke="none" stroke-width="0" /><path d="M300.7,490.3L306.6,500.1L304.5,502.1L299.7,491.9Z" fill="#111" stroke="none" stroke-width="0" /><path d="M299.1,492.7L303.2,503.1L300.7,504.5L297.9,493.9Z" fill="#111" stroke="none" stroke-width="0" /><path d="M297.1,494.5L299.3,505.2L296.6,506.0L295.6,495.3Z" fill="#111" stroke="none" stroke-width="0" /><path d="M294.8,495.7L295.0,506.4L292.1,506.7L293.1,496.0Z" fill="#111" stroke="none" stroke-width="0" /><path d="M292.1,496.1L290.4,506.7L287.4,506.4L290.3,496.1Z" fill="#111" stroke="none" stroke-width="0" /><path d="M289.2,495.9L285.6,506.0L282.5,505.2L287.3,495.4Z" fill="#111" stroke="none" stroke-width="0" /><path d="M286.2,495.0L280.8,504.5L277.7,503.1L284.1,494.1Z" fill="#111" stroke="none" stroke-width="0" /><path d="M283.0,493.5L275.9,502.1L272.9,500.1L281.0,492.1Z" fill="#111" stroke="none" stroke-width="0" /><path d="M279.8,491.3L271.2,498.9L268.3,496.4L277.8,489.6Z" fill="#111" stroke="none" stroke-width="0" /><path d="M276.7,488.5L266.7,494.9L264.0,492.0L274.7,486.5Z" fill="#111" stroke="none" stroke-width="0" /><path d="M273.6,485.3L262.5,490.3L260.1,487.0L271.7,483.0Z" fill="#111" stroke="none" stroke-width="0" /><path d="M270.7,481.6L258.8,485.1L256.6,481.6L269.0,479.0Z" fill="#111" stroke="none" stroke-width="0" /><path d="M268.1,477.5L255.5,479.5L253.7,475.7L266.6,474.8Z" fill="#111" stroke="none" stroke-width="0" /><path d="M265.8,473.2L252.9,473.6L251.5,469.7L264.5,470.3Z" fill="#111" stroke="none" stroke-width="0" /><path d="M263.8,468.7L250.8,467.5L249.9,463.5L262.7,465.7Z" fill="#111" stroke="none" stroke-width="0" /><path d="M262.2,464.1L249.5,461.3L249.0,457.4L261.4,461.2Z" fill="#111" stroke="none" stroke-width="0" /><path d="M261.1,459.5L248.9,455.3L248.9,451.5L260.6,456.7Z" fill="#111" stroke="none" stroke-width="0" /><path d="M260.4,455.1L249.0,449.4L249.4,445.9L260.2,452.4Z" fill="#111" stroke="none" stroke-width="0" /><path d="M260.1,450.9L249.8,443.9L250.7,440.7L260.2,448.4Z" fill="#111" stroke="none" stroke-width="0" /><path d="M260.4,447.1L251.4,439.0L252.7,436.1L260.8,444.8Z" fill="#111" stroke="none" stroke-width="0" /><path d="M261.1,443.6L253.6,434.6L255.3,432.1L261.8,441.7Z" fill="#111" stroke="none" stroke-width="0" /><path d="M262.3,440.7L256.4,430.9L258.5,428.9L263.3,439.1Z" fill="#111" stroke="none" stroke-width="0" /><path d="M263.9,438.3L259.8,427.9L262.3,426.5L265.1,437.1Z" fill="#111" stroke="none" stroke-width="0" /><path d="M265.9,436.5L263.7,425.8L266.4,425.0L267.4,435.7Z" fill="#111" stroke="none" stroke-width="0" /><path d="M268.2,435.3L268.0,424.6L270.9,424.3L269.9,435.0Z" fill="#111" stroke="none" stroke-width="0" /><path d="M270.9,434.9L272.6,424.3L275.6,424.6L272.7,434.9Z" fill="#111" stroke="none" stroke-width="0" /><path d="M273.8,435.1L277.4,425.0L280.5,425.8L275.7,435.6Z" fill="#111" stroke="none" stroke-width="0" /><path d="M276.8,436.0L282.2,426.5L285.3,427.9L278.9,436.9Z" fill="#111" stroke="none" stroke-width="0" /><path d="M280.0,437.5L287.1,428.9L290.1,430.9L282.0,438.9Z" fill="#111" stroke="none" stroke-width="0" /><path d="M283.2,439.7L291.8,432.1L294.7,434.6L285.2,441.4Z" fill="#111" stroke="none" stroke-width="0" /><path d="M286.3,442.5L296.3,436.1L299.0,439.0L288.3,444.5Z" fill="#111" stroke="none" stroke-width="0" /><path d="M289.4,445.7L300.5,440.7L302.9,444.0L291.3,448.0Z" fill="#111" stroke="none" stroke-width="0" /><path d="M292.3,449.4L304.2,445.9L306.4,449.4L294.0,452.0Z" fill="#111" stroke="none" stroke-width="0" /><path d="M294.9,453.5L307.5,451.5L309.3,455.3L296.4,456.2Z" fill="#111" stroke="none" stroke-width="0" />
<ellipse cx="283.0" cy="467.0" rx="17.2" ry="33.0" transform="rotate(-26 283.0 467.0)" fill="#fff" stroke="#000" stroke-width="1.3" />
<ellipse cx="287.5" cy="466.5" rx="13.0" ry="26.0" transform="rotate(-26 287.5 466.5)" fill="#fff" stroke="#000" stroke-width="1.2" />
<ellipse cx="294.8" cy="495.1" rx="0.8" ry="1.0" transform="rotate(0 294.8 495.1)" fill="#fff" stroke="#000" stroke-width="0.8" />
<ellipse cx="288.6" cy="493.9" rx="0.8" ry="1.0" transform="rotate(0 288.6 493.9)" fill="#fff" stroke="#000" stroke-width="0.8" />
<ellipse cx="281.8" cy="489.2" rx="0.8" ry="1.0" transform="rotate(0 281.8 489.2)" fill="#fff" stroke="#000" stroke-width="0.8" />
<ellipse cx="275.3" cy="481.7" rx="0.8" ry="1.0" transform="rotate(0 275.3 481.7)" fill="#fff" stroke="#000" stroke-width="0.8" />
<ellipse cx="269.9" cy="472.2" rx="0.8" ry="1.0" transform="rotate(0 269.9 472.2)" fill="#fff" stroke="#000" stroke-width="0.8" />
<ellipse cx="266.3" cy="462.1" rx="0.8" ry="1.0" transform="rotate(0 266.3 462.1)" fill="#fff" stroke="#000" stroke-width="0.8" />
<ellipse cx="265.0" cy="452.6" rx="0.8" ry="1.0" transform="rotate(0 265.0 452.6)" fill="#fff" stroke="#000" stroke-width="0.8" />
<ellipse cx="266.2" cy="444.9" rx="0.8" ry="1.0" transform="rotate(0 266.2 444.9)" fill="#fff" stroke="#000" stroke-width="0.8" />
<ellipse cx="269.7" cy="440.2" rx="0.8" ry="1.0" transform="rotate(0 269.7 440.2)" fill="#fff" stroke="#000" stroke-width="0.8" />
<ellipse cx="275.0" cy="438.8" rx="0.8" ry="1.0" transform="rotate(0 275.0 438.8)" fill="#fff" stroke="#000" stroke-width="0.8" />
<ellipse cx="281.5" cy="441.2" rx="0.8" ry="1.0" transform="rotate(0 281.5 441.2)" fill="#fff" stroke="#000" stroke-width="0.8" />
<ellipse cx="288.3" cy="446.8" rx="0.8" ry="1.0" transform="rotate(0 288.3 446.8)" fill="#fff" stroke="#000" stroke-width="0.8" />
<ellipse cx="294.6" cy="455.1" rx="0.8" ry="1.0" transform="rotate(0 294.6 455.1)" fill="#fff" stroke="#000" stroke-width="0.8" />
<ellipse cx="299.5" cy="464.9" rx="0.8" ry="1.0" transform="rotate(0 299.5 464.9)" fill="#fff" stroke="#000" stroke-width="0.8" />
<line x1="232.0" y1="485.0" x2="372.0" y2="424.0" stroke="#000" stroke-width="0.9" />
<path d="M323.7,422.5L323.8,420.2L324.1,418.1L324.5,415.9L325.0,413.9L325.8,412.0L326.6,410.3L327.7,408.6L328.8,407.2L330.1,405.9L331.5,404.7L332.9,403.8L334.5,403.0L340.5,400.5L342.2,400.0L343.9,399.6L345.7,399.5L347.5,399.5L349.3,399.8L351.2,400.3L353.0,400.9L354.9,401.8L356.7,402.8L358.5,404.1L360.2,405.5L361.8,407.0L363.4,408.7L364.8,410.6L366.2,412.5L367.4,414.6L368.6,416.8L369.5,419.0L370.4,421.3L371.1,423.6L371.6,426.0L372.0,428.3L372.2,430.7L372.3,433.0L372.2,435.3L371.9,437.4L371.5,439.6L371.0,441.6L370.2,443.5L369.4,445.2L368.3,446.9L367.2,448.3L365.9,449.6L364.5,450.8L363.1,451.7L361.5,452.5L355.5,455.0L353.8,455.5L352.1,455.9L350.3,456.0L348.5,456.0L346.7,455.7L344.8,455.2L343.0,454.6L341.1,453.7L339.3,452.7L337.5,451.4L335.8,450.0L334.2,448.5L332.6,446.8L331.2,444.9L329.8,443.0L328.6,440.9L327.4,438.7L326.5,436.5L325.6,434.2L324.9,431.9L324.4,429.5L324.0,427.2L323.8,424.8Z" fill="#fff" stroke="#000" stroke-width="1" /><ellipse cx="345.0" cy="429.0" rx="20.0" ry="28.0" transform="rotate(-22 345.0 429.0)" fill="#fff" stroke="#000" stroke-width="1" />
<ellipse cx="345.0" cy="429.0" rx="20.0" ry="28.0" transform="rotate(-22 345.0 429.0)" fill="#fff" stroke="#000" stroke-width="1.5" />
<ellipse cx="345.5" cy="429.0" rx="17.8" ry="25.6" transform="rotate(-22 345.5 429.0)" fill="none" stroke="#000" stroke-width="0.7" />
<ellipse cx="328.4" cy="419.3" rx="0.9" ry="1.1" transform="rotate(0 328.4 419.3)" fill="#fff" stroke="#000" stroke-width="0.8" />
<ellipse cx="330.1" cy="413.1" rx="0.9" ry="1.1" transform="rotate(0 330.1 413.1)" fill="#fff" stroke="#000" stroke-width="0.8" />
<ellipse cx="333.5" cy="408.6" rx="0.9" ry="1.1" transform="rotate(0 333.5 408.6)" fill="#fff" stroke="#000" stroke-width="0.8" />
<ellipse cx="338.2" cy="406.2" rx="0.9" ry="1.1" transform="rotate(0 338.2 406.2)" fill="#fff" stroke="#000" stroke-width="0.8" />
<ellipse cx="343.6" cy="406.3" rx="0.9" ry="1.1" transform="rotate(0 343.6 406.3)" fill="#fff" stroke="#000" stroke-width="0.8" />
<ellipse cx="349.3" cy="408.8" rx="0.9" ry="1.1" transform="rotate(0 349.3 408.8)" fill="#fff" stroke="#000" stroke-width="0.8" />
<ellipse cx="354.5" cy="413.4" rx="0.9" ry="1.1" transform="rotate(0 354.5 413.4)" fill="#fff" stroke="#000" stroke-width="0.8" />
<ellipse cx="358.8" cy="419.7" rx="0.9" ry="1.1" transform="rotate(0 358.8 419.7)" fill="#fff" stroke="#000" stroke-width="0.8" />
<ellipse cx="361.7" cy="427.0" rx="0.9" ry="1.1" transform="rotate(0 361.7 427.0)" fill="#fff" stroke="#000" stroke-width="0.8" />
<ellipse cx="362.8" cy="434.4" rx="0.9" ry="1.1" transform="rotate(0 362.8 434.4)" fill="#fff" stroke="#000" stroke-width="0.8" />
<ellipse cx="362.2" cy="441.4" rx="0.9" ry="1.1" transform="rotate(0 362.2 441.4)" fill="#fff" stroke="#000" stroke-width="0.8" />
<ellipse cx="359.7" cy="447.0" rx="0.9" ry="1.1" transform="rotate(0 359.7 447.0)" fill="#fff" stroke="#000" stroke-width="0.8" />
<ellipse cx="355.7" cy="450.6" rx="0.9" ry="1.1" transform="rotate(0 355.7 450.6)" fill="#fff" stroke="#000" stroke-width="0.8" />
<ellipse cx="350.7" cy="452.0" rx="0.9" ry="1.1" transform="rotate(0 350.7 452.0)" fill="#fff" stroke="#000" stroke-width="0.8" />
<ellipse cx="345.1" cy="451.0" rx="0.9" ry="1.1" transform="rotate(0 345.1 451.0)" fill="#fff" stroke="#000" stroke-width="0.8" />
<ellipse cx="339.6" cy="447.6" rx="0.9" ry="1.1" transform="rotate(0 339.6 447.6)" fill="#fff" stroke="#000" stroke-width="0.8" />
<ellipse cx="339.0" cy="431.5" rx="13.5" ry="19.5" transform="rotate(-20 339.0 431.5)" fill="none" stroke="#000" stroke-width="0.8" />
<path d="M316.3,434.6L316.3,433.1L316.4,431.7L316.6,430.2L316.9,428.9L317.3,427.6L317.8,426.4L318.4,425.2L319.1,424.2L319.8,423.3L320.6,422.4L321.5,421.7L322.4,421.1L333.4,415.1L334.4,414.6L335.4,414.3L336.4,414.1L337.5,414.0L338.6,414.1L339.7,414.3L340.8,414.6L342.0,415.0L343.0,415.6L344.1,416.3L345.1,417.1L346.1,418.0L347.1,419.0L348.0,420.1L348.8,421.3L349.6,422.6L350.3,424.0L350.9,425.4L351.4,426.8L351.9,428.3L352.2,429.8L352.5,431.4L352.7,432.9L352.7,434.4L352.7,435.9L352.6,437.3L352.4,438.8L352.1,440.1L351.7,441.4L351.2,442.6L350.6,443.8L349.9,444.8L349.2,445.7L348.4,446.6L347.5,447.3L346.6,447.9L335.6,453.9L334.6,454.4L333.6,454.7L332.6,454.9L331.5,455.0L330.4,454.9L329.3,454.7L328.2,454.4L327.0,454.0L326.0,453.4L324.9,452.7L323.9,451.9L322.9,451.0L321.9,450.0L321.0,448.9L320.2,447.7L319.4,446.4L318.7,445.0L318.1,443.6L317.6,442.2L317.1,440.7L316.8,439.2L316.5,437.6L316.3,436.1Z" fill="#fff" stroke="#000" stroke-width="1" /><ellipse cx="329.0" cy="437.5" rx="12.3" ry="17.8" transform="rotate(-15 329.0 437.5)" fill="#fff" stroke="#000" stroke-width="1" />
<ellipse cx="329.0" cy="437.5" rx="12.3" ry="17.8" transform="rotate(-15 329.0 437.5)" fill="#fff" stroke="#000" stroke-width="1.3" />
<ellipse cx="330.0" cy="437.0" rx="10.0" ry="15.3" transform="rotate(-15 330.0 437.0)" fill="#fff" stroke="#000" stroke-width="1.1" />
<line x1="332.6" y1="451.2" x2="337.4" y2="448.8" stroke="#000" stroke-width="1.1" /><line x1="329.8" y1="450.3" x2="334.6" y2="447.9" stroke="#000" stroke-width="1.1" /><line x1="327.1" y1="448.3" x2="331.9" y2="445.9" stroke="#000" stroke-width="1.1" /><line x1="324.7" y1="445.3" x2="329.5" y2="442.9" stroke="#000" stroke-width="1.1" /><line x1="322.9" y1="441.7" x2="327.7" y2="439.3" stroke="#000" stroke-width="1.1" /><line x1="321.7" y1="437.6" x2="326.5" y2="435.2" stroke="#000" stroke-width="1.1" /><line x1="321.4" y1="433.5" x2="326.2" y2="431.1" stroke="#000" stroke-width="1.1" /><line x1="321.8" y1="429.6" x2="326.6" y2="427.2" stroke="#000" stroke-width="1.1" /><line x1="323.1" y1="426.4" x2="327.9" y2="424.0" stroke="#000" stroke-width="1.1" /><line x1="325.0" y1="424.1" x2="329.8" y2="421.7" stroke="#000" stroke-width="1.1" /><line x1="327.4" y1="422.9" x2="332.2" y2="420.5" stroke="#000" stroke-width="1.1" /><line x1="330.2" y1="422.9" x2="335.0" y2="420.5" stroke="#000" stroke-width="1.1" /><line x1="333.0" y1="424.1" x2="337.8" y2="421.7" stroke="#000" stroke-width="1.1" /><line x1="335.6" y1="426.4" x2="340.4" y2="424.0" stroke="#000" stroke-width="1.1" />
<ellipse cx="331.5" cy="436.8" rx="8.5" ry="13.5" transform="rotate(-15 331.5 436.8)" fill="none" stroke="#000" stroke-width="0.8" />
<path d="M215.1,468.6L215.1,468.4L215.2,468.1L215.2,467.8L215.3,467.6L215.4,467.3L215.5,467.1L215.7,466.9L215.8,466.7L216.0,466.5L216.2,466.4L216.4,466.2L216.6,466.1L236.6,456.1L236.8,456.0L237.1,456.0L237.3,455.9L237.5,455.9L237.8,455.9L238.0,455.9L238.3,455.9L238.5,456.0L238.8,456.1L239.0,456.2L239.3,456.3L239.5,456.5L239.7,456.7L239.9,456.9L240.1,457.1L240.2,457.3L240.4,457.5L240.5,457.8L240.6,458.0L240.7,458.3L240.8,458.6L240.8,458.8L240.9,459.1L240.9,459.4L240.9,459.6L240.8,459.9L240.8,460.2L240.7,460.4L240.6,460.7L240.5,460.9L240.3,461.1L240.2,461.3L240.0,461.5L239.8,461.6L239.6,461.8L239.4,461.9L219.4,471.9L219.2,472.0L218.9,472.0L218.7,472.1L218.5,472.1L218.2,472.1L218.0,472.1L217.7,472.1L217.5,472.0L217.2,471.9L217.0,471.8L216.7,471.7L216.5,471.5L216.3,471.3L216.1,471.1L215.9,470.9L215.8,470.7L215.6,470.5L215.5,470.2L215.4,470.0L215.3,469.7L215.2,469.4L215.2,469.2L215.1,468.9Z" fill="#fff" stroke="#000" stroke-width="1" /><ellipse cx="218.0" cy="469.0" rx="2.8" ry="3.2" transform="rotate(-26 218.0 469.0)" fill="#fff" stroke="#000" stroke-width="1" />
<line x1="226.0" y1="463.0" x2="228.0" y2="467.5" stroke="#000" stroke-width="0.8" />
<line x1="228.2" y1="461.9" x2="230.2" y2="466.4" stroke="#000" stroke-width="0.8" />
<line x1="230.4" y1="460.8" x2="232.4" y2="465.3" stroke="#000" stroke-width="0.8" />
<line x1="232.6" y1="459.7" x2="234.6" y2="464.2" stroke="#000" stroke-width="0.8" />
<line x1="234.8" y1="458.6" x2="236.8" y2="463.1" stroke="#000" stroke-width="0.8" />
<path d="M210.2,470.1L210.2,469.7L210.3,469.2L210.3,468.8L210.5,468.5L210.6,468.1L210.8,467.8L211.0,467.5L211.2,467.2L211.5,466.9L211.8,466.7L215.3,464.7L215.6,464.6L215.9,464.4L216.2,464.3L216.6,464.3L217.0,464.3L217.3,464.3L217.7,464.3L218.1,464.4L218.5,464.6L218.8,464.8L219.2,465.0L219.6,465.2L219.9,465.5L220.2,465.8L220.6,466.2L220.8,466.5L221.1,466.9L221.4,467.3L221.6,467.7L221.8,468.2L222.0,468.6L222.1,469.1L222.2,469.5L222.3,470.0L222.3,470.5L222.3,470.9L222.3,471.3L222.2,471.8L222.2,472.2L222.0,472.5L221.9,472.9L221.7,473.2L221.5,473.5L221.3,473.8L221.0,474.1L220.7,474.3L217.2,476.3L216.9,476.4L216.6,476.6L216.3,476.7L215.9,476.7L215.5,476.7L215.2,476.7L214.8,476.7L214.4,476.6L214.0,476.4L213.7,476.2L213.3,476.0L212.9,475.8L212.6,475.5L212.3,475.2L211.9,474.8L211.7,474.5L211.4,474.1L211.1,473.7L210.9,473.3L210.7,472.8L210.5,472.4L210.4,471.9L210.3,471.5L210.2,471.0L210.2,470.5Z" fill="#fff" stroke="#000" stroke-width="1" /><ellipse cx="214.5" cy="471.5" rx="4.0" ry="5.5" transform="rotate(-26 214.5 471.5)" fill="#fff" stroke="#000" stroke-width="1" />
<ellipse cx="214.5" cy="471.5" rx="4.0" ry="5.5" transform="rotate(-26 214.5 471.5)" fill="#fff" stroke="#000" stroke-width="1.3" />
<path d="M229.1,484.8L229.2,483.4L229.4,482.0L229.7,480.7L230.0,479.4L230.5,478.2L231.1,477.1L231.8,476.0L232.5,475.0L233.3,474.2L234.2,473.4L235.2,472.8L236.2,472.2L239.2,470.7L240.2,470.3L241.3,470.0L242.5,469.9L243.6,469.8L244.8,469.9L246.0,470.1L247.1,470.5L248.3,471.0L249.4,471.5L250.5,472.2L251.6,473.0L252.6,473.9L253.6,474.9L254.5,476.0L255.3,477.2L256.1,478.4L256.8,479.7L257.4,481.1L257.9,482.5L258.3,483.9L258.6,485.4L258.8,486.8L258.9,488.3L258.9,489.7L258.8,491.1L258.6,492.5L258.3,493.8L258.0,495.1L257.5,496.3L256.9,497.4L256.2,498.5L255.5,499.5L254.7,500.3L253.8,501.1L252.8,501.7L251.8,502.3L248.8,503.8L247.8,504.2L246.7,504.5L245.5,504.6L244.4,504.7L243.2,504.6L242.0,504.4L240.9,504.0L239.7,503.5L238.6,503.0L237.5,502.3L236.4,501.5L235.4,500.6L234.4,499.6L233.5,498.5L232.7,497.3L231.9,496.1L231.2,494.8L230.6,493.4L230.1,492.0L229.7,490.6L229.4,489.1L229.2,487.7L229.1,486.2Z" fill="#fff" stroke="#000" stroke-width="1" /><ellipse cx="242.5" cy="488.0" rx="13.0" ry="17.0" transform="rotate(-18 242.5 488.0)" fill="#fff" stroke="#000" stroke-width="1" />
<ellipse cx="242.5" cy="488.0" rx="13.0" ry="17.0" transform="rotate(-18 242.5 488.0)" fill="#fff" stroke="#000" stroke-width="1.3" />
<ellipse cx="243.5" cy="487.5" rx="6.0" ry="8.5" transform="rotate(-18 243.5 487.5)" fill="#fff" stroke="#000" stroke-width="1.2" />
<ellipse cx="224.0" cy="498.0" rx="4.5" ry="6.5" transform="rotate(-20 224.0 498.0)" fill="#fff" stroke="#000" stroke-width="1.1" />
<path d="M206.2,503.2L206.2,502.6L206.3,502.0L206.4,501.4L206.5,500.8L206.7,500.3L206.9,499.8L207.2,499.3L211.5,491.7L211.9,491.0L212.4,490.4L213.0,489.9L213.6,489.4L214.2,489.0L214.9,488.7L215.6,488.5L216.3,488.4L217.1,488.4L217.9,488.4L218.7,488.6L219.4,488.8L220.2,489.1L221.0,489.5L221.7,490.0L222.5,490.5L223.2,491.2L223.9,491.8L224.5,492.6L225.1,493.4L225.7,494.3L226.2,495.2L226.6,496.1L227.0,497.1L227.3,498.1L227.6,499.1L227.8,500.1L227.9,501.1L228.0,502.1L228.0,503.1L227.9,504.1L227.8,505.0L227.6,505.9L227.3,506.8L226.9,507.6L226.5,508.3L226.1,509.0L225.6,509.6L225.0,510.1L224.4,510.6L223.8,511.0L223.1,511.3L222.4,511.5L221.7,511.6L220.9,511.6L213.1,511.8L212.6,511.8L212.1,511.7L211.6,511.5L211.1,511.4L210.6,511.1L210.2,510.8L209.7,510.5L209.2,510.1L208.8,509.7L208.4,509.2L208.0,508.7L207.7,508.1L207.4,507.6L207.1,507.0L206.8,506.4L206.6,505.8L206.5,505.1L206.3,504.5L206.3,503.9Z" fill="#fff" stroke="#000" stroke-width="1.2" />
<line x1="217.2" y1="502.6" x2="227.5" y2="498.8" stroke="#000" stroke-width="1.7" /><line x1="217.7" y1="504.9" x2="228.0" y2="502.4" stroke="#000" stroke-width="1.7" /><line x1="217.7" y1="507.1" x2="227.6" y2="505.8" stroke="#000" stroke-width="1.7" /><line x1="217.1" y1="509.1" x2="226.3" y2="508.7" stroke="#000" stroke-width="1.7" /><line x1="216.0" y1="510.6" x2="224.4" y2="510.6" stroke="#000" stroke-width="1.7" /><line x1="214.6" y1="511.5" x2="221.9" y2="511.6" stroke="#000" stroke-width="1.7" /><line x1="212.8" y1="511.8" x2="219.1" y2="511.4" stroke="#000" stroke-width="1.7" /><line x1="211.0" y1="511.3" x2="216.3" y2="510.1" stroke="#000" stroke-width="1.7" /><line x1="209.3" y1="510.2" x2="213.8" y2="507.8" stroke="#000" stroke-width="1.7" /><line x1="207.9" y1="508.5" x2="211.8" y2="504.7" stroke="#000" stroke-width="1.7" /><line x1="206.8" y1="506.4" x2="210.5" y2="501.2" stroke="#000" stroke-width="1.7" /><line x1="206.3" y1="504.1" x2="210.0" y2="497.6" stroke="#000" stroke-width="1.7" /><line x1="206.3" y1="501.9" x2="210.4" y2="494.2" stroke="#000" stroke-width="1.7" /><line x1="206.9" y1="499.9" x2="211.7" y2="491.3" stroke="#000" stroke-width="1.7" /><line x1="208.0" y1="498.4" x2="213.6" y2="489.4" stroke="#000" stroke-width="1.7" /><line x1="209.4" y1="497.5" x2="216.1" y2="488.4" stroke="#000" stroke-width="1.7" /><line x1="211.2" y1="497.2" x2="218.9" y2="488.6" stroke="#000" stroke-width="1.7" /><line x1="213.0" y1="497.7" x2="221.7" y2="489.9" stroke="#000" stroke-width="1.7" /><line x1="214.7" y1="498.8" x2="224.2" y2="492.2" stroke="#000" stroke-width="1.7" /><line x1="216.1" y1="500.5" x2="226.2" y2="495.3" stroke="#000" stroke-width="1.7" />
<ellipse cx="212.0" cy="504.5" rx="5.5" ry="7.5" transform="rotate(-20 212.0 504.5)" fill="#fff" stroke="#000" stroke-width="1.2" />
<ellipse cx="212.0" cy="504.5" rx="2.6" ry="3.6" transform="rotate(-20 212.0 504.5)" fill="#fff" stroke="#000" stroke-width="1" />
<path d="M185.0,500.0L185.0,499.8L185.0,499.7L185.1,499.5L185.2,499.3L185.3,499.2L185.4,499.0L185.5,498.9L185.7,498.7L185.9,498.6L186.1,498.5L186.3,498.4L186.5,498.3L186.7,498.2L187.0,498.1L187.2,498.1L187.5,498.0L187.7,498.0L188.0,498.0L188.3,498.0L188.5,498.0L188.8,498.1L189.0,498.1L189.3,498.2L189.5,498.3L189.7,498.4L189.9,498.5L190.1,498.6L190.3,498.7L190.5,498.9L190.6,499.0L190.7,499.2L190.8,499.3L190.9,499.5L191.0,499.7L191.0,499.8L191.0,500.0L191.5,537.0L191.5,537.2L191.5,537.3L191.4,537.5L191.3,537.7L191.2,537.8L191.1,538.0L191.0,538.1L190.8,538.3L190.6,538.4L190.4,538.5L190.2,538.6L190.0,538.7L189.8,538.8L189.5,538.9L189.3,538.9L189.0,539.0L188.8,539.0L188.5,539.0L188.2,539.0L188.0,539.0L187.7,538.9L187.5,538.9L187.2,538.8L187.0,538.7L186.8,538.6L186.6,538.5L186.4,538.4L186.2,538.3L186.0,538.1L185.9,538.0L185.8,537.8L185.7,537.7L185.6,537.5L185.5,537.3L185.5,537.2L185.5,537.0Z" fill="#fff" stroke="#000" stroke-width="1" /><ellipse cx="188.0" cy="500.0" rx="3.0" ry="2.0" transform="rotate(0 188.0 500.0)" fill="#fff" stroke="#000" stroke-width="1" />
<ellipse cx="188.0" cy="500.0" rx="3.0" ry="2.0" transform="rotate(0 188.0 500.0)" fill="#fff" stroke="#000" stroke-width="1.1" />
<path d="M173.6,509.0L173.6,508.7L173.6,508.5L173.7,508.2L173.8,508.0L173.8,507.7L173.9,507.5L174.0,507.3L174.2,507.2L174.3,507.0L174.5,506.9L174.6,506.8L174.8,506.7L175.0,506.7L175.2,506.6L175.4,506.6L175.6,506.7L175.8,506.7L176.0,506.8L176.2,506.9L203.2,519.9L203.4,520.0L203.6,520.1L203.8,520.3L204.0,520.5L204.2,520.7L204.4,520.9L204.5,521.2L204.7,521.4L204.8,521.7L205.0,522.0L205.1,522.2L205.2,522.5L205.2,522.8L205.3,523.1L205.4,523.4L205.4,523.7L205.4,524.0L205.4,524.3L205.4,524.5L205.3,524.8L205.2,525.0L205.2,525.3L205.1,525.5L205.0,525.7L204.8,525.8L204.7,526.0L204.5,526.1L204.4,526.2L204.2,526.3L204.0,526.3L203.8,526.4L203.6,526.4L203.4,526.3L203.2,526.3L203.0,526.2L202.8,526.1L175.8,513.1L175.6,513.0L175.4,512.9L175.2,512.7L175.0,512.5L174.8,512.3L174.6,512.1L174.5,511.8L174.3,511.6L174.2,511.3L174.0,511.0L173.9,510.8L173.8,510.5L173.8,510.2L173.7,509.9L173.6,509.6L173.6,509.3Z" fill="#fff" stroke="#000" stroke-width="1" /><ellipse cx="203.0" cy="523.0" rx="2.2" ry="3.5" transform="rotate(-20 203.0 523.0)" fill="#fff" stroke="#000" stroke-width="1" />
<ellipse cx="203.0" cy="523.0" rx="2.2" ry="3.5" transform="rotate(-20 203.0 523.0)" fill="#fff" stroke="#000" stroke-width="1" />
<ellipse cx="188.0" cy="519.0" rx="6.5" ry="8.0" transform="rotate(-20 188.0 519.0)" fill="#fff" stroke="#000" stroke-width="1.3" />
<ellipse cx="188.5" cy="519.0" rx="3.5" ry="4.5" transform="rotate(-20 188.5 519.0)" fill="#fff" stroke="#000" stroke-width="1" />
<ellipse cx="176.0" cy="510.0" rx="2.2" ry="3.0" transform="rotate(-20 176.0 510.0)" fill="#fff" stroke="#000" stroke-width="1" />
<line x1="150.0" y1="546.0" x2="245.0" y2="488.0" stroke="#000" stroke-width="0.9" />
<path d="M158.4,504.3L158.4,503.9L158.4,503.6L158.5,503.2L158.6,502.9L160.6,495.9L160.8,495.3L161.1,494.7L161.4,494.2L161.8,493.7L162.2,493.3L162.6,492.9L163.1,492.5L163.6,492.2L164.1,492.0L164.6,491.8L165.2,491.7L165.8,491.7L166.4,491.7L166.9,491.8L167.5,492.0L168.1,492.2L168.7,492.5L169.3,492.8L169.8,493.2L170.3,493.6L170.8,494.1L171.3,494.6L171.7,495.2L172.1,495.8L172.5,496.4L172.8,497.1L173.1,497.8L173.3,498.5L173.5,499.2L173.7,499.9L173.7,500.6L173.8,501.4L173.7,502.1L173.7,502.8L173.5,503.4L173.4,504.1L173.2,504.7L172.9,505.3L172.6,505.8L172.2,506.3L171.8,506.7L171.4,507.1L170.9,507.5L170.4,507.8L169.9,508.0L169.4,508.2L163.2,509.3L162.9,509.4L162.6,509.4L162.3,509.4L162.0,509.3L161.7,509.3L161.4,509.2L161.1,509.0L160.8,508.8L160.5,508.6L160.2,508.4L159.9,508.2L159.7,507.9L159.4,507.6L159.2,507.3L159.0,506.9L158.9,506.6L158.7,506.2L158.6,505.8L158.5,505.4L158.4,505.1L158.4,504.7Z" fill="#fff" stroke="#000" stroke-width="1.2" />
<line x1="165.3" y1="503.8" x2="173.5" y2="499.0" stroke="#000" stroke-width="1.5" /><line x1="165.6" y1="505.5" x2="173.7" y2="502.2" stroke="#000" stroke-width="1.5" /><line x1="165.4" y1="507.1" x2="173.0" y2="505.1" stroke="#000" stroke-width="1.5" /><line x1="164.7" y1="508.4" x2="171.3" y2="507.2" stroke="#000" stroke-width="1.5" /><line x1="163.5" y1="509.2" x2="169.0" y2="508.2" stroke="#000" stroke-width="1.5" /><line x1="162.2" y1="509.4" x2="166.3" y2="508.0" stroke="#000" stroke-width="1.5" /><line x1="160.8" y1="508.8" x2="163.8" y2="506.5" stroke="#000" stroke-width="1.5" /><line x1="159.6" y1="507.7" x2="161.8" y2="504.1" stroke="#000" stroke-width="1.5" /><line x1="158.7" y1="506.2" x2="160.5" y2="501.0" stroke="#000" stroke-width="1.5" /><line x1="158.4" y1="504.5" x2="160.3" y2="497.8" stroke="#000" stroke-width="1.5" /><line x1="158.6" y1="502.9" x2="161.0" y2="494.9" stroke="#000" stroke-width="1.5" /><line x1="159.3" y1="501.6" x2="162.7" y2="492.8" stroke="#000" stroke-width="1.5" /><line x1="160.5" y1="500.8" x2="165.0" y2="491.8" stroke="#000" stroke-width="1.5" /><line x1="161.8" y1="500.6" x2="167.7" y2="492.0" stroke="#000" stroke-width="1.5" /><line x1="163.2" y1="501.2" x2="170.2" y2="493.5" stroke="#000" stroke-width="1.5" /><line x1="164.4" y1="502.3" x2="172.2" y2="495.9" stroke="#000" stroke-width="1.5" />
<ellipse cx="162.0" cy="505.0" rx="3.5" ry="4.5" transform="rotate(-20 162.0 505.0)" fill="#333" stroke="#000" stroke-width="1.2" />
<path d="M141.9,493.1L141.9,492.5L142.0,491.9L142.1,491.3L142.3,490.8L142.5,490.3L142.8,489.8L143.1,489.3L143.4,488.9L143.8,488.5L144.2,488.2L144.7,487.9L145.1,487.6L148.1,486.1L148.6,485.9L149.1,485.8L149.6,485.7L150.1,485.6L150.7,485.6L151.2,485.7L151.7,485.8L152.3,485.9L152.8,486.1L153.3,486.4L153.8,486.7L154.2,487.0L154.7,487.4L155.1,487.9L155.5,488.3L155.8,488.8L156.1,489.3L156.4,489.9L156.6,490.4L156.8,491.0L157.0,491.6L157.1,492.2L157.1,492.8L157.1,493.4L157.1,494.0L157.0,494.6L156.9,495.2L156.7,495.7L156.5,496.2L156.2,496.7L155.9,497.2L155.6,497.6L155.2,498.0L154.8,498.3L154.3,498.6L153.9,498.9L150.9,500.4L150.4,500.6L149.9,500.7L149.4,500.8L148.9,500.9L148.3,500.9L147.8,500.8L147.3,500.7L146.7,500.6L146.2,500.4L145.7,500.1L145.2,499.8L144.8,499.5L144.3,499.1L143.9,498.6L143.5,498.2L143.2,497.7L142.9,497.2L142.6,496.6L142.4,496.1L142.2,495.5L142.0,494.9L141.9,494.3L141.9,493.7Z" fill="#fff" stroke="#000" stroke-width="1" /><ellipse cx="148.0" cy="494.0" rx="6.0" ry="7.0" transform="rotate(-20 148.0 494.0)" fill="#fff" stroke="#000" stroke-width="1" />
<ellipse cx="148.0" cy="494.0" rx="6.0" ry="7.0" transform="rotate(-20 148.0 494.0)" fill="#fff" stroke="#000" stroke-width="1.5" />
<ellipse cx="148.5" cy="494.0" rx="3.0" ry="3.6" transform="rotate(-20 148.5 494.0)" fill="#fff" stroke="#000" stroke-width="1.1" />
<ellipse cx="148.5" cy="494.5" rx="1.5" ry="1.8" transform="rotate(-20 148.5 494.5)" fill="#333" stroke="none" stroke-width="0" />
<line x1="136.0" y1="486.0" x2="190.0" y2="515.0" stroke="#000" stroke-width="0.9" />
<path d="M140.5,537.7L140.5,536.6L140.6,535.4L140.8,534.3L141.1,533.2L141.4,532.2L141.9,531.2L142.4,530.3L142.9,529.5L143.6,528.7L144.3,528.0L145.1,527.4L145.9,526.9L148.9,525.4L149.8,525.0L150.7,524.7L151.6,524.5L152.6,524.4L153.6,524.4L154.6,524.5L155.6,524.7L156.6,525.0L157.5,525.4L158.5,525.9L159.4,526.5L160.3,527.2L161.2,527.9L162.0,528.8L162.8,529.7L163.5,530.7L164.1,531.7L164.7,532.8L165.2,533.9L165.6,535.0L166.0,536.2L166.2,537.4L166.4,538.6L166.5,539.8L166.5,540.9L166.4,542.1L166.2,543.2L165.9,544.3L165.6,545.3L165.1,546.3L164.6,547.2L164.1,548.0L163.4,548.8L162.7,549.5L161.9,550.1L161.1,550.6L158.1,552.1L157.2,552.5L156.3,552.8L155.4,553.0L154.4,553.1L153.4,553.1L152.4,553.0L151.4,552.8L150.4,552.5L149.5,552.1L148.5,551.6L147.6,551.0L146.7,550.3L145.8,549.6L145.0,548.7L144.2,547.8L143.5,546.8L142.9,545.8L142.3,544.7L141.8,543.6L141.4,542.5L141.0,541.3L140.8,540.1L140.6,538.9Z" fill="#fff" stroke="#000" stroke-width="1" /><ellipse cx="152.0" cy="539.5" rx="11.0" ry="14.0" transform="rotate(-22 152.0 539.5)" fill="#fff" stroke="#000" stroke-width="1" />
<rect x="149.3" y="525.1" width="1.5" height="1.1" rx="0.5" transform="rotate(-100 150.1 525.7)" fill="#000" stroke="#000" stroke-width="0.5"/>
<rect x="152.6" y="525.5" width="1.5" height="1.1" rx="0.5" transform="rotate(-86 153.3 526.1)" fill="#000" stroke="#000" stroke-width="0.5"/>
<rect x="155.8" y="527.0" width="1.5" height="1.1" rx="0.5" transform="rotate(-71 156.5 527.5)" fill="#000" stroke="#000" stroke-width="0.5"/>
<rect x="158.6" y="529.4" width="1.5" height="1.1" rx="0.5" transform="rotate(-54 159.4 529.9)" fill="#000" stroke="#000" stroke-width="0.5"/>
<rect x="160.9" y="532.5" width="1.5" height="1.1" rx="0.5" transform="rotate(-34 161.7 533.1)" fill="#000" stroke="#000" stroke-width="0.5"/>
<rect x="162.5" y="536.2" width="1.5" height="1.1" rx="0.5" transform="rotate(-13 163.2 536.7)" fill="#000" stroke="#000" stroke-width="0.5"/>
<rect x="163.2" y="540.1" width="1.5" height="1.1" rx="0.5" transform="rotate(7 163.9 540.6)" fill="#000" stroke="#000" stroke-width="0.5"/>
<rect x="163.0" y="543.8" width="1.5" height="1.1" rx="0.5" transform="rotate(24 163.7 544.4)" fill="#000" stroke="#000" stroke-width="0.5"/>
<rect x="161.8" y="547.2" width="1.5" height="1.1" rx="0.5" transform="rotate(40 162.6 547.7)" fill="#000" stroke="#000" stroke-width="0.5"/>
<rect x="159.9" y="549.9" width="1.5" height="1.1" rx="0.5" transform="rotate(54 160.6 550.4)" fill="#000" stroke="#000" stroke-width="0.5"/>
<rect x="157.2" y="551.6" width="1.5" height="1.1" rx="0.5" transform="rotate(67 158.0 552.2)" fill="#000" stroke="#000" stroke-width="0.5"/>
<rect x="154.2" y="552.4" width="1.5" height="1.1" rx="0.5" transform="rotate(80 154.9 552.9)" fill="#000" stroke="#000" stroke-width="0.5"/>
<ellipse cx="152.0" cy="539.5" rx="11.0" ry="14.0" transform="rotate(-22 152.0 539.5)" fill="#fff" stroke="#000" stroke-width="1.3" />
<path d="M138.6,542.9L138.6,542.2L138.7,541.5L138.9,540.8L139.0,540.2L139.3,539.6L139.6,539.0L139.9,538.5L140.3,538.0L140.7,537.6L141.1,537.2L141.6,536.9L146.1,534.4L146.6,534.2L147.2,534.0L147.7,533.9L148.3,533.8L148.9,533.8L149.5,533.9L150.1,534.1L150.7,534.3L151.3,534.5L151.9,534.9L152.4,535.3L153.0,535.7L153.5,536.2L154.0,536.8L154.5,537.4L154.9,538.0L155.3,538.7L155.7,539.3L156.0,540.1L156.3,540.8L156.5,541.6L156.7,542.3L156.8,543.1L156.9,543.8L156.9,544.6L156.9,545.3L156.8,546.0L156.6,546.7L156.5,547.3L156.2,547.9L155.9,548.5L155.6,549.0L155.2,549.5L154.8,549.9L154.4,550.3L153.9,550.6L149.4,553.1L148.9,553.3L148.3,553.5L147.8,553.6L147.2,553.7L146.6,553.7L146.0,553.6L145.4,553.4L144.8,553.2L144.2,553.0L143.6,552.6L143.1,552.2L142.5,551.8L142.0,551.3L141.5,550.7L141.0,550.1L140.6,549.5L140.2,548.8L139.8,548.2L139.5,547.4L139.2,546.7L139.0,545.9L138.8,545.2L138.7,544.4L138.6,543.7Z" fill="#fff" stroke="#000" stroke-width="1" /><ellipse cx="145.5" cy="545.0" rx="6.5" ry="9.0" transform="rotate(-22 145.5 545.0)" fill="#fff" stroke="#000" stroke-width="1" />
<ellipse cx="148.5" cy="543.5" rx="6.8" ry="9.3" transform="rotate(-22 148.5 543.5)" fill="none" stroke="#000" stroke-width="1" />
<path d="M135.3,544.7L135.3,544.1L135.3,543.5L135.4,543.0L135.5,542.5L135.7,542.0L135.9,541.5L136.1,541.1L136.4,540.8L136.7,540.4L137.0,540.1L137.4,539.9L137.8,539.7L142.3,538.2L142.7,538.1L143.1,538.0L143.5,538.0L144.0,538.0L144.4,538.1L144.9,538.2L145.3,538.4L145.8,538.7L146.2,538.9L146.7,539.3L147.1,539.6L147.5,540.1L147.9,540.5L148.2,541.0L148.6,541.5L148.9,542.1L149.2,542.6L149.5,543.2L149.7,543.8L149.9,544.4L150.0,545.0L150.1,545.6L150.2,546.2L150.2,546.8L150.2,547.4L150.2,548.0L150.1,548.5L150.0,549.0L149.8,549.5L149.6,550.0L149.4,550.4L149.1,550.7L148.8,551.1L148.5,551.4L148.1,551.6L147.7,551.8L143.2,553.3L142.8,553.4L142.4,553.5L142.0,553.5L141.5,553.5L141.1,553.4L140.6,553.3L140.2,553.1L139.7,552.8L139.3,552.6L138.8,552.2L138.4,551.9L138.0,551.4L137.6,551.0L137.3,550.5L136.9,550.0L136.6,549.4L136.3,548.9L136.0,548.3L135.8,547.7L135.6,547.1L135.5,546.5L135.4,545.9L135.3,545.3Z" fill="#fff" stroke="#000" stroke-width="1" /><ellipse cx="140.5" cy="546.5" rx="4.8" ry="7.3" transform="rotate(-22 140.5 546.5)" fill="#fff" stroke="#000" stroke-width="1" />
<ellipse cx="140.5" cy="546.5" rx="4.8" ry="7.3" transform="rotate(-22 140.5 546.5)" fill="#fff" stroke="#000" stroke-width="1.2" />
<ellipse cx="141.0" cy="546.5" rx="2.4" ry="3.7" transform="rotate(-22 141.0 546.5)" fill="#fff" stroke="#000" stroke-width="1" />
<path d="M111.6,553.8L111.7,552.5L111.9,551.4L112.1,550.2L112.4,549.2L112.8,548.1L113.3,547.2L113.9,546.3L114.5,545.4L115.2,544.7L116.0,544.1L116.8,543.5L117.6,543.1L120.6,541.6L121.5,541.2L122.4,541.0L123.4,540.8L124.4,540.8L125.4,540.9L126.4,541.1L127.4,541.4L128.3,541.8L129.3,542.3L130.2,542.8L131.1,543.5L132.0,544.3L132.8,545.2L133.6,546.1L134.3,547.1L134.9,548.1L135.5,549.3L136.0,550.4L136.5,551.6L136.8,552.8L137.1,554.0L137.3,555.3L137.4,556.5L137.4,557.7L137.3,559.0L137.1,560.1L136.9,561.3L136.6,562.3L136.2,563.4L135.7,564.3L135.1,565.2L134.5,566.1L133.8,566.8L133.0,567.4L132.2,568.0L131.4,568.4L128.4,569.9L127.5,570.3L126.6,570.5L125.6,570.7L124.6,570.7L123.6,570.6L122.6,570.4L121.6,570.1L120.7,569.7L119.7,569.2L118.8,568.7L117.9,568.0L117.0,567.2L116.2,566.3L115.4,565.4L114.7,564.4L114.1,563.4L113.5,562.2L113.0,561.1L112.5,559.9L112.2,558.7L111.9,557.5L111.7,556.2L111.6,555.0Z" fill="#fff" stroke="#000" stroke-width="1" /><ellipse cx="123.0" cy="556.5" rx="11.0" ry="14.5" transform="rotate(-18 123.0 556.5)" fill="#fff" stroke="#000" stroke-width="1" />
<ellipse cx="123.0" cy="556.5" rx="11.0" ry="14.5" transform="rotate(-18 123.0 556.5)" fill="#fff" stroke="#000" stroke-width="1.3" />
<ellipse cx="124.0" cy="556.0" rx="6.5" ry="8.5" transform="rotate(-18 124.0 556.0)" fill="#fff" stroke="#000" stroke-width="1.2" />
<line x1="100.0" y1="568.0" x2="170.0" y2="532.0" stroke="#000" stroke-width="0.9" />
<path d="M72.8,572.7L72.9,571.0L73.0,569.4L73.3,567.8L73.7,566.3L74.2,564.9L74.8,563.5L75.5,562.3L76.3,561.1L77.3,560.1L78.2,559.2L79.3,558.4L80.5,557.7L89.0,553.2L90.2,552.7L91.4,552.3L92.7,552.1L94.0,552.0L95.4,552.1L96.8,552.3L98.1,552.7L99.5,553.2L100.8,553.8L102.1,554.6L103.4,555.5L104.6,556.5L105.8,557.7L106.9,558.9L107.9,560.3L108.8,561.7L109.7,563.2L110.4,564.8L111.1,566.4L111.6,568.0L112.1,569.7L112.4,571.4L112.6,573.1L112.7,574.8L112.6,576.5L112.5,578.1L112.2,579.7L111.8,581.2L111.3,582.6L110.7,584.0L110.0,585.2L109.2,586.4L108.2,587.4L107.3,588.3L106.2,589.1L105.0,589.8L96.5,594.3L95.3,594.8L94.1,595.2L92.8,595.4L91.5,595.5L90.1,595.4L88.7,595.2L87.4,594.8L86.0,594.3L84.7,593.7L83.4,592.9L82.1,592.0L80.9,591.0L79.7,589.8L78.6,588.6L77.6,587.2L76.7,585.8L75.8,584.3L75.1,582.7L74.4,581.1L73.9,579.5L73.4,577.8L73.1,576.1L72.9,574.4Z" fill="#fff" stroke="#000" stroke-width="1" /><ellipse cx="88.5" cy="576.0" rx="15.0" ry="20.0" transform="rotate(-20 88.5 576.0)" fill="#fff" stroke="#000" stroke-width="1" />
<line x1="80.8" y1="558.5" x2="88.9" y2="553.1" stroke="#000" stroke-width="3.6" /><line x1="81.1" y1="558.4" x2="88.3" y2="553.3" stroke="#fff" stroke-width="1.5" />
<line x1="87.0" y1="557.4" x2="95.4" y2="551.9" stroke="#000" stroke-width="3.6" /><line x1="87.3" y1="557.3" x2="94.8" y2="552.1" stroke="#fff" stroke-width="1.5" />
<line x1="93.5" y1="559.8" x2="102.3" y2="554.4" stroke="#000" stroke-width="3.6" /><line x1="93.8" y1="559.7" x2="101.7" y2="554.6" stroke="#fff" stroke-width="1.5" />
<line x1="99.1" y1="565.2" x2="108.1" y2="560.1" stroke="#000" stroke-width="3.6" /><line x1="99.4" y1="565.1" x2="107.5" y2="560.3" stroke="#fff" stroke-width="1.5" />
<line x1="102.7" y1="572.6" x2="111.9" y2="567.9" stroke="#000" stroke-width="3.6" /><line x1="103.0" y1="572.5" x2="111.3" y2="568.1" stroke="#fff" stroke-width="1.5" />
<line x1="103.6" y1="580.7" x2="112.9" y2="576.5" stroke="#000" stroke-width="3.6" /><line x1="103.9" y1="580.6" x2="112.3" y2="576.7" stroke="#fff" stroke-width="1.5" />
<line x1="101.7" y1="587.9" x2="110.9" y2="584.0" stroke="#000" stroke-width="3.6" /><line x1="102.0" y1="587.8" x2="110.3" y2="584.2" stroke="#fff" stroke-width="1.5" />
<ellipse cx="88.5" cy="576.0" rx="15.0" ry="20.0" transform="rotate(-20 88.5 576.0)" fill="#fff" stroke="#000" stroke-width="1.3" />
<ellipse cx="89.0" cy="575.5" rx="12.0" ry="16.5" transform="rotate(-20 89.0 575.5)" fill="none" stroke="#000" stroke-width="0.9" />
<path d="M65.8,582.1L65.8,581.4L65.9,580.7L66.0,580.1L66.2,579.4L66.4,578.9L66.7,578.3L67.0,577.8L67.3,577.4L67.7,577.0L68.1,576.7L68.5,576.4L82.5,568.9L83.0,568.7L83.5,568.6L84.0,568.5L84.5,568.5L85.0,568.6L85.6,568.7L86.1,568.8L86.7,569.1L87.2,569.4L87.7,569.8L88.2,570.2L88.7,570.6L89.2,571.1L89.7,571.7L90.1,572.3L90.5,572.9L90.8,573.6L91.2,574.3L91.5,575.0L91.7,575.7L91.9,576.5L92.0,577.2L92.2,578.0L92.2,578.7L92.2,579.4L92.2,580.1L92.1,580.8L92.0,581.4L91.8,582.1L91.6,582.6L91.3,583.2L91.0,583.7L90.7,584.1L90.3,584.5L89.9,584.8L89.5,585.1L75.5,592.6L75.0,592.8L74.5,592.9L74.0,593.0L73.5,593.0L73.0,592.9L72.4,592.8L71.9,592.7L71.3,592.4L70.8,592.1L70.3,591.7L69.8,591.3L69.3,590.9L68.8,590.4L68.3,589.8L67.9,589.2L67.5,588.6L67.2,587.9L66.8,587.2L66.5,586.5L66.3,585.8L66.1,585.0L66.0,584.3L65.8,583.5L65.8,582.8Z" fill="#fff" stroke="#000" stroke-width="1" /><ellipse cx="72.0" cy="584.5" rx="5.8" ry="8.8" transform="rotate(-20 72.0 584.5)" fill="#fff" stroke="#000" stroke-width="1" />
<ellipse cx="72.0" cy="584.5" rx="5.8" ry="8.8" transform="rotate(-20 72.0 584.5)" fill="#fff" stroke="#000" stroke-width="1.3" />
<ellipse cx="72.4" cy="584.5" rx="4.2" ry="6.8" transform="rotate(-20 72.4 584.5)" fill="#fff" stroke="#000" stroke-width="1" />
<line x1="68.0" y1="586.0" x2="76.0" y2="580.0" stroke="#000" stroke-width="0.8" />
<path d="M53.9,571.5L53.9,571.3L53.9,571.1L54.0,570.9L54.0,570.7L54.1,570.6L54.2,570.4L54.3,570.2L54.4,570.1L54.5,570.0L54.7,569.9L54.8,569.8L63.8,564.8L64.0,564.7L64.2,564.7L64.3,564.6L64.5,564.6L64.7,564.6L64.9,564.6L65.1,564.7L65.2,564.7L65.4,564.8L65.6,564.9L65.8,565.0L65.9,565.1L66.1,565.2L66.3,565.4L66.4,565.5L66.5,565.7L66.7,565.9L66.8,566.1L66.9,566.3L66.9,566.5L67.0,566.7L67.1,566.9L67.1,567.1L67.1,567.3L67.1,567.5L67.1,567.7L67.1,567.9L67.0,568.1L67.0,568.3L66.9,568.4L66.8,568.6L66.7,568.8L66.6,568.9L66.5,569.0L66.3,569.1L66.2,569.2L57.2,574.2L57.0,574.3L56.8,574.3L56.7,574.4L56.5,574.4L56.3,574.4L56.1,574.4L55.9,574.3L55.8,574.3L55.6,574.2L55.4,574.1L55.2,574.0L55.1,573.9L54.9,573.8L54.7,573.6L54.6,573.5L54.5,573.3L54.3,573.1L54.2,572.9L54.1,572.7L54.1,572.5L54.0,572.3L53.9,572.1L53.9,571.9L53.9,571.7Z" fill="#fff" stroke="#000" stroke-width="1" /><ellipse cx="56.0" cy="572.0" rx="2.0" ry="2.5" transform="rotate(-28 56.0 572.0)" fill="#fff" stroke="#000" stroke-width="1" />
<line x1="57.0" y1="569.6" x2="58.0" y2="574.0" stroke="#000" stroke-width="0.8" />
<line x1="59.4" y1="568.4" x2="60.4" y2="572.8" stroke="#000" stroke-width="0.8" />
<line x1="61.8" y1="567.2" x2="62.8" y2="571.6" stroke="#000" stroke-width="0.8" />
<path d="M46.5,572.9L46.6,572.5L46.6,572.1L46.7,571.7L46.8,571.3L47.0,570.9L47.2,570.6L47.4,570.3L47.6,570.0L47.9,569.7L48.2,569.5L48.5,569.3L52.5,567.3L52.8,567.2L53.2,567.0L53.6,567.0L53.9,566.9L54.3,566.9L54.7,567.0L55.1,567.0L55.5,567.1L55.9,567.3L56.2,567.5L56.6,567.7L57.0,568.0L57.3,568.2L57.6,568.5L57.9,568.9L58.2,569.2L58.5,569.6L58.7,570.0L58.9,570.4L59.1,570.9L59.2,571.3L59.3,571.7L59.4,572.2L59.5,572.6L59.5,573.1L59.4,573.5L59.4,573.9L59.3,574.3L59.2,574.7L59.0,575.1L58.8,575.4L58.6,575.7L58.4,576.0L58.1,576.3L57.8,576.5L57.5,576.7L53.5,578.7L53.2,578.8L52.8,579.0L52.4,579.0L52.1,579.1L51.7,579.1L51.3,579.0L50.9,579.0L50.5,578.9L50.1,578.7L49.8,578.5L49.4,578.3L49.0,578.0L48.7,577.8L48.4,577.5L48.1,577.1L47.8,576.8L47.5,576.4L47.3,576.0L47.1,575.6L46.9,575.1L46.8,574.7L46.7,574.3L46.6,573.8L46.5,573.4Z" fill="#fff" stroke="#000" stroke-width="1" /><ellipse cx="51.0" cy="574.0" rx="4.2" ry="5.3" transform="rotate(-28 51.0 574.0)" fill="#fff" stroke="#000" stroke-width="1" />
<ellipse cx="51.0" cy="574.0" rx="4.2" ry="5.3" transform="rotate(-28 51.0 574.0)" fill="#fff" stroke="#000" stroke-width="1.3" />
<line x1="65.0" y1="566.0" x2="80.0" y2="560.0" stroke="#000" stroke-width="0.9" />
<path d="M114.1,647.0L114.1,645.9L114.2,644.9L114.4,643.9L114.7,643.0L115.0,642.1L115.4,641.2L115.8,640.5L116.4,639.7L116.9,639.1L117.6,638.5L118.2,638.0L119.0,637.6L126.0,634.1L126.7,633.8L127.5,633.5L128.3,633.4L129.2,633.3L130.0,633.4L130.9,633.5L131.8,633.7L132.6,634.0L133.5,634.4L134.3,634.9L135.1,635.5L135.9,636.1L136.6,636.8L137.3,637.6L137.9,638.4L138.5,639.3L139.0,640.3L139.5,641.2L139.9,642.3L140.3,643.3L140.5,644.3L140.7,645.4L140.9,646.5L140.9,647.5L140.9,648.6L140.8,649.6L140.6,650.6L140.3,651.5L140.0,652.4L139.6,653.3L139.2,654.0L138.6,654.8L138.1,655.4L137.4,656.0L136.8,656.5L136.0,656.9L129.0,660.4L128.3,660.7L127.5,661.0L126.7,661.1L125.8,661.2L125.0,661.1L124.1,661.0L123.2,660.8L122.4,660.5L121.5,660.1L120.7,659.6L119.9,659.0L119.1,658.4L118.4,657.7L117.7,656.9L117.1,656.1L116.5,655.2L116.0,654.2L115.5,653.3L115.1,652.2L114.7,651.2L114.5,650.2L114.3,649.1L114.1,648.0Z" fill="#fff" stroke="#000" stroke-width="1" /><ellipse cx="124.0" cy="649.0" rx="9.5" ry="12.5" transform="rotate(-20 124.0 649.0)" fill="#fff" stroke="#000" stroke-width="1" />
<rect x="116.6" y="637.2" width="4.2" height="2.8" rx="1.3" transform="rotate(-135 118.7 638.6)" fill="#fff" stroke="#000" stroke-width="1.1"/>
<rect x="120.0" y="634.1" width="4.2" height="2.8" rx="1.3" transform="rotate(-114 122.1 635.5)" fill="#fff" stroke="#000" stroke-width="1.1"/>
<rect x="124.3" y="633.2" width="4.2" height="2.8" rx="1.3" transform="rotate(-95 126.4 634.6)" fill="#fff" stroke="#000" stroke-width="1.1"/>
<rect x="128.9" y="634.6" width="4.2" height="2.8" rx="1.3" transform="rotate(-73 131.0 636.0)" fill="#fff" stroke="#000" stroke-width="1.1"/>
<rect x="132.8" y="638.1" width="4.2" height="2.8" rx="1.3" transform="rotate(-47 134.9 639.5)" fill="#fff" stroke="#000" stroke-width="1.1"/>
<rect x="135.4" y="643.0" width="4.2" height="2.8" rx="1.3" transform="rotate(-17 137.5 644.4)" fill="#fff" stroke="#000" stroke-width="1.1"/>
<rect x="136.2" y="648.5" width="4.2" height="2.8" rx="1.3" transform="rotate(12 138.3 649.9)" fill="#fff" stroke="#000" stroke-width="1.1"/>
<rect x="135.1" y="653.5" width="4.2" height="2.8" rx="1.3" transform="rotate(37 137.2 654.9)" fill="#fff" stroke="#000" stroke-width="1.1"/>
<rect x="132.2" y="657.2" width="4.2" height="2.8" rx="1.3" transform="rotate(58 134.3 658.6)" fill="#fff" stroke="#000" stroke-width="1.1"/>
<rect x="128.1" y="658.9" width="4.2" height="2.8" rx="1.3" transform="rotate(78 130.2 660.3)" fill="#fff" stroke="#000" stroke-width="1.1"/>
<ellipse cx="124.0" cy="649.0" rx="8.5" ry="11.5" transform="rotate(-20 124.0 649.0)" fill="#fff" stroke="#000" stroke-width="1.2" />
<ellipse cx="124.5" cy="649.5" rx="6.0" ry="8.8" transform="rotate(-20 124.5 649.5)" fill="#fff" stroke="#000" stroke-width="1.1" />
<path d="M93.1,658.9L93.1,657.8L93.3,656.7L93.5,655.6L93.8,654.6L94.1,653.6L94.6,652.7L95.1,651.8L95.6,651.0L96.3,650.3L97.0,649.7L97.7,649.1L102.7,646.1L103.5,645.7L104.4,645.3L105.3,645.0L106.2,644.9L107.1,644.8L108.0,644.9L109.0,645.0L109.9,645.2L110.9,645.5L111.8,646.0L112.7,646.5L113.6,647.1L114.4,647.8L115.2,648.5L116.0,649.4L116.7,650.3L117.3,651.2L117.9,652.3L118.4,653.3L118.9,654.4L119.2,655.5L119.5,656.7L119.7,657.8L119.9,659.0L119.9,660.1L119.9,661.2L119.7,662.3L119.5,663.4L119.2,664.4L118.9,665.4L118.4,666.3L117.9,667.2L117.4,668.0L116.7,668.7L116.0,669.3L115.3,669.9L110.3,672.9L109.5,673.3L108.6,673.7L107.7,674.0L106.8,674.1L105.9,674.2L105.0,674.1L104.0,674.0L103.1,673.8L102.1,673.5L101.2,673.0L100.3,672.5L99.4,671.9L98.6,671.2L97.8,670.5L97.0,669.6L96.3,668.7L95.7,667.8L95.1,666.7L94.6,665.7L94.1,664.6L93.8,663.5L93.5,662.3L93.3,661.2L93.1,660.0Z" fill="#fff" stroke="#000" stroke-width="1" /><ellipse cx="104.0" cy="661.0" rx="10.5" ry="13.5" transform="rotate(-20 104.0 661.0)" fill="#fff" stroke="#000" stroke-width="1" />
<ellipse cx="104.0" cy="661.0" rx="10.5" ry="13.5" transform="rotate(-20 104.0 661.0)" fill="#fff" stroke="#000" stroke-width="1.3" />
<ellipse cx="104.5" cy="661.5" rx="6.8" ry="10.0" transform="rotate(-20 104.5 661.5)" fill="#fff" stroke="#000" stroke-width="1.2" />
<line x1="101.0" y1="657.0" x2="108.0" y2="663.0" stroke="#000" stroke-width="0.9" />
<path d="M71.3,671.1L71.3,669.9L71.5,668.7L71.8,667.5L72.2,666.4L72.7,665.3L73.2,664.3L73.8,663.3L74.5,662.5L75.3,661.7L76.2,660.9L77.1,660.3L78.0,659.8L83.0,657.3L84.0,656.9L85.1,656.6L86.2,656.3L87.2,656.2L88.4,656.2L89.5,656.3L90.6,656.6L91.7,656.9L92.8,657.3L93.8,657.8L94.8,658.5L95.8,659.2L96.7,660.0L97.5,660.9L98.3,661.8L99.1,662.8L99.7,663.9L100.3,665.1L100.7,666.2L101.1,667.4L101.4,668.7L101.6,669.9L101.7,671.1L101.7,672.4L101.7,673.6L101.5,674.8L101.2,676.0L100.8,677.1L100.3,678.2L99.8,679.2L99.2,680.2L98.5,681.0L97.7,681.8L96.8,682.6L95.9,683.2L95.0,683.7L90.0,686.2L89.0,686.6L87.9,686.9L86.8,687.2L85.8,687.3L84.6,687.3L83.5,687.2L82.4,686.9L81.3,686.6L80.2,686.2L79.2,685.7L78.2,685.0L77.2,684.3L76.3,683.5L75.5,682.6L74.7,681.7L73.9,680.7L73.3,679.6L72.7,678.4L72.3,677.3L71.9,676.1L71.6,674.8L71.4,673.6L71.3,672.4Z" fill="#fff" stroke="#000" stroke-width="1" /><ellipse cx="84.0" cy="673.0" rx="12.5" ry="14.5" transform="rotate(-20 84.0 673.0)" fill="#fff" stroke="#000" stroke-width="1" />
<ellipse cx="84.0" cy="673.0" rx="12.5" ry="14.5" transform="rotate(-20 84.0 673.0)" fill="#fff" stroke="#000" stroke-width="1.3" />
<rect x="90.4" y="667.6" width="3.6" height="4.4" rx="1.6" transform="rotate(-20 92.2 669.8)" fill="#1a1a1a" stroke="#000" stroke-width="0.6"/>
<rect x="91.1" y="673.9" width="3.6" height="4.4" rx="1.6" transform="rotate(18 92.9 676.1)" fill="#1a1a1a" stroke="#000" stroke-width="0.6"/>
<rect x="88.9" y="679.1" width="3.6" height="4.4" rx="1.6" transform="rotate(49 90.7 681.3)" fill="#1a1a1a" stroke="#000" stroke-width="0.6"/>
<rect x="84.3" y="681.8" width="3.6" height="4.4" rx="1.6" transform="rotate(77 86.1 684.0)" fill="#1a1a1a" stroke="#000" stroke-width="0.6"/>
<rect x="78.9" y="680.9" width="3.6" height="4.4" rx="1.6" transform="rotate(105 80.7 683.1)" fill="#1a1a1a" stroke="#000" stroke-width="0.6"/>
<rect x="74.4" y="676.9" width="3.6" height="4.4" rx="1.6" transform="rotate(140 76.2 679.1)" fill="#1a1a1a" stroke="#000" stroke-width="0.6"/>
<rect x="72.2" y="670.9" width="3.6" height="4.4" rx="1.6" transform="rotate(-181 74.0 673.1)" fill="#1a1a1a" stroke="#000" stroke-width="0.6"/>
<rect x="73.0" y="664.9" width="3.6" height="4.4" rx="1.6" transform="rotate(-146 74.8 667.1)" fill="#1a1a1a" stroke="#000" stroke-width="0.6"/>
<rect x="76.6" y="660.8" width="3.6" height="4.4" rx="1.6" transform="rotate(-117 78.4 663.0)" fill="#1a1a1a" stroke="#000" stroke-width="0.6"/>
<rect x="81.8" y="659.8" width="3.6" height="4.4" rx="1.6" transform="rotate(-90 83.6 662.0)" fill="#1a1a1a" stroke="#000" stroke-width="0.6"/>
<rect x="86.9" y="662.3" width="3.6" height="4.4" rx="1.6" transform="rotate(-58 88.7 664.5)" fill="#1a1a1a" stroke="#000" stroke-width="0.6"/>
<ellipse cx="83.5" cy="673.0" rx="5.0" ry="6.5" transform="rotate(-20 83.5 673.0)" fill="#fff" stroke="#000" stroke-width="1" />
<ellipse cx="83.5" cy="673.0" rx="2.5" ry="3.3" transform="rotate(-20 83.5 673.0)" fill="#333" stroke="none" stroke-width="0" />
<line x1="67.5" y1="685.0" x2="123.0" y2="651.5" stroke="#000" stroke-width="0.9" />
<path d="M401.7,604.8 L439.1,626.5 L439.1,673.8 L401,694.7 L362.8,673.8 L362.8,627 Z" fill="#fff" stroke="#000" stroke-width="1.2"/>
<path d="M362.8,627 L401,648 L439.1,626.5 M401,648 L401,694.7" fill="none" stroke="#000" stroke-width="1"/>
<text x="390" y="633" font-family="Liberation Sans" font-size="15.5">KIT</text>
<g transform="translate(362 636) scale(0.06154)"><path d="M70.0,50.0L200.0,110.0L250.0,160.0L290.0,250.0L325.0,325.0L395.0,245.0L580.0,350.0L580.0,440.0L430.0,370.0L345.0,470.0L300.0,430.0L265.0,330.0L230.0,250.0L190.0,210.0L75.0,155.0Z" fill="#000" stroke="none" stroke-width="0" /><path d="M75.0,175.0L190.0,225.0L225.0,265.0L260.0,350.0L295.0,445.0L345.0,495.0L430.0,385.0L580.0,480.0L580.0,570.0L480.0,520.0L400.0,610.0L330.0,600.0L270.0,540.0L240.0,450.0L205.0,360.0L150.0,300.0L75.0,250.0Z" fill="#000" stroke="none" stroke-width="0" /></g>
<g transform="translate(400 636) scale(0.06154)"><path d="M80.0,345.0L270.0,250.0L330.0,330.0L370.0,260.0L400.0,180.0L580.0,55.0L590.0,140.0L440.0,215.0L410.0,280.0L390.0,390.0L320.0,480.0L230.0,375.0L80.0,440.0Z" fill="#000" stroke="none" stroke-width="0" /><path d="M80.0,470.0L230.0,395.0L310.0,505.0L380.0,460.0L420.0,400.0L440.0,320.0L470.0,245.0L590.0,185.0L590.0,270.0L500.0,310.0L470.0,380.0L440.0,470.0L400.0,540.0L330.0,610.0L250.0,570.0L210.0,510.0L80.0,580.0Z" fill="#000" stroke="none" stroke-width="0" /></g>
<clipPath id="hc"><ellipse cx="415.5" cy="139.5" rx="4.9" ry="7.9" transform="rotate(-20 415.5 139.5)"/><ellipse cx="443" cy="124" rx="7.4" ry="12.9" transform="rotate(-20 443 124)"/><ellipse cx="480" cy="105.5" rx="9.9" ry="17.4" transform="rotate(-22 480 105.5)"/><ellipse cx="503.3" cy="91" rx="4.4" ry="7.0" transform="rotate(-20 503.3 91)"/><ellipse cx="527.5" cy="77" rx="5.2" ry="8.0" transform="rotate(-20 527.5 77)"/><ellipse cx="550.5" cy="63.5" rx="6.6000000000000005" ry="9.200000000000001" transform="rotate(-20 550.5 63.5)"/><ellipse cx="568.3" cy="52" rx="2.6" ry="4.9" transform="rotate(-15 568.3 52)"/><ellipse cx="327.5" cy="191" rx="4.6000000000000005" ry="7.6" transform="rotate(-20 327.5 191)"/><ellipse cx="299.5" cy="208" rx="3.1999999999999997" ry="5.2" transform="rotate(-22 299.5 208)"/><ellipse cx="286.2" cy="215.5" rx="1.2000000000000002" ry="1.6" transform="rotate(-20 286.2 215.5)"/><ellipse cx="295.6" cy="287.2" rx="9.4" ry="13.9" transform="rotate(22 295.6 287.2)"/><ellipse cx="311.8" cy="298" rx="2.0" ry="3.1999999999999997" transform="rotate(-20 311.8 298)"/><ellipse cx="383.5" cy="338.5" rx="1.9" ry="3.1" transform="rotate(-20 383.5 338.5)"/><ellipse cx="395.3" cy="342.5" rx="1.4" ry="2.1" transform="rotate(-20 395.3 342.5)"/><ellipse cx="407" cy="351.3" rx="5.6000000000000005" ry="7.9" transform="rotate(-20 407 351.3)"/><ellipse cx="442" cy="370" rx="5.4" ry="7.2" transform="rotate(-8 442 370)"/><ellipse cx="479.5" cy="389" rx="6.4" ry="10.4" transform="rotate(-15 479.5 389)"/><ellipse cx="496" cy="400" rx="3.6" ry="5.4" transform="rotate(-20 496 400)"/><ellipse cx="512.5" cy="409" rx="2.6" ry="3.9" transform="rotate(-20 512.5 409)"/><ellipse cx="529.5" cy="418.5" rx="1.2000000000000002" ry="1.6999999999999997" transform="rotate(-20 529.5 418.5)"/><ellipse cx="580.5" cy="449.5" rx="0.9" ry="1.2999999999999998" transform="rotate(-20 580.5 449.5)"/><ellipse cx="593.5" cy="457.5" rx="1.2000000000000002" ry="1.5" transform="rotate(-20 593.5 457.5)"/><ellipse cx="243.5" cy="487.5" rx="5.4" ry="7.9" transform="rotate(-18 243.5 487.5)"/><ellipse cx="287.5" cy="467" rx="12.4" ry="25.4" transform="rotate(-26 287.5 467)"/><ellipse cx="330" cy="437" rx="9.4" ry="14.700000000000001" transform="rotate(-15 330 437)"/><ellipse cx="124" cy="556" rx="5.9" ry="7.9" transform="rotate(-18 124 556)"/><ellipse cx="141" cy="546.5" rx="1.7999999999999998" ry="3.1" transform="rotate(-22 141 546.5)"/><ellipse cx="104.5" cy="661.5" rx="6.2" ry="9.4" transform="rotate(-20 104.5 661.5)"/><ellipse cx="124.5" cy="649.5" rx="5.4" ry="8.200000000000001" transform="rotate(-20 124.5 649.5)"/><ellipse cx="72.4" cy="584.5" rx="3.6" ry="6.2" transform="rotate(-20 72.4 584.5)"/><ellipse cx="214.5" cy="502.5" rx="1.9" ry="2.9" transform="rotate(-20 214.5 502.5)"/><ellipse cx="188.5" cy="519" rx="2.9" ry="3.9" transform="rotate(-20 188.5 519)"/><ellipse cx="381.3" cy="296" rx="1.1" ry="1.4" transform="rotate(-20 381.3 296)"/><ellipse cx="356.5" cy="291" rx="2.6" ry="4.2" transform="rotate(-20 356.5 291)"/><ellipse cx="83.5" cy="673" rx="4.4" ry="5.9" transform="rotate(-20 83.5 673)"/></clipPath><g clip-path="url(#hc)"><path d="M612.0,27.0L286.0,215.5L158.3,285.0" fill="none" stroke="#000" stroke-width="0.9" /><line x1="240.0" y1="192.3" x2="253.0" y2="186.0" stroke="#000" stroke-width="0.9" stroke-dasharray="5,2,1,2"/><line x1="166.0" y1="205.0" x2="192.8" y2="219.0" stroke="#000" stroke-width="0.9" stroke-dasharray="5,2,1,2"/><line x1="233.4" y1="194.0" x2="248.0" y2="188.5" stroke="#000" stroke-width="0.9" /><line x1="212.0" y1="208.8" x2="224.0" y2="203.0" stroke="#000" stroke-width="0.9" /><line x1="213.0" y1="236.0" x2="227.0" y2="231.0" stroke="#000" stroke-width="0.9" /><line x1="125.9" y1="237.0" x2="125.9" y2="273.0" stroke="#000" stroke-width="0.9" /><line x1="311.5" y1="236.0" x2="311.5" y2="262.0" stroke="#000" stroke-width="0.9" /><line x1="313.0" y1="296.0" x2="380.0" y2="334.0" stroke="#000" stroke-width="0.9" /><line x1="400.0" y1="343.0" x2="600.0" y2="462.0" stroke="#000" stroke-width="0.9" /><line x1="338.0" y1="275.0" x2="410.0" y2="313.0" stroke="#000" stroke-width="0.9" stroke-dasharray="5,2,1,2"/><line x1="320.0" y1="262.0" x2="345.0" y2="276.0" stroke="#000" stroke-width="0.9" stroke-dasharray="5,2,1,2"/><line x1="238.0" y1="459.0" x2="303.0" y2="423.0" stroke="#000" stroke-width="0.9" /><line x1="232.0" y1="485.0" x2="372.0" y2="424.0" stroke="#000" stroke-width="0.9" /><line x1="150.0" y1="546.0" x2="245.0" y2="488.0" stroke="#000" stroke-width="0.9" /><line x1="136.0" y1="486.0" x2="190.0" y2="515.0" stroke="#000" stroke-width="0.9" /><line x1="100.0" y1="568.0" x2="170.0" y2="532.0" stroke="#000" stroke-width="0.9" /><line x1="65.0" y1="566.0" x2="80.0" y2="560.0" stroke="#000" stroke-width="0.9" /><line x1="67.5" y1="685.0" x2="123.0" y2="651.5" stroke="#000" stroke-width="0.9" /></g>
<g class="ld">
<line x1="458" y1="51" x2="485.5" y2="64.8"/><path class="ah" d="M490.0,67.0L484.1,66.5L486.1,62.6Z"/>
<line x1="429" y1="64" x2="454.6" y2="77.6"/><path class="ah" d="M459.0,80.0L453.1,79.4L455.2,75.5Z"/>
<line x1="625" y1="69" x2="597.5" y2="55.2"/><path class="ah" d="M593.0,53.0L598.9,53.5L596.9,57.4Z"/>
<line x1="591" y1="88" x2="565.4" y2="74.4"/><path class="ah" d="M561.0,72.0L566.9,72.6L564.8,76.5Z"/>
<line x1="566" y1="101" x2="542.3" y2="86.6"/><path class="ah" d="M538.0,84.0L543.8,85.0L541.6,88.7Z"/>
<line x1="543" y1="113" x2="519.3" y2="99.5"/><path class="ah" d="M515.0,97.0L520.9,97.8L518.7,101.6Z"/>
<line x1="404" y1="98" x2="428.6" y2="110.7"/><path class="ah" d="M433.0,113.0L427.1,112.4L429.1,108.5Z"/>
<line x1="373" y1="108" x2="396.6" y2="120.6"/><path class="ah" d="M401.0,123.0L395.1,122.3L397.2,118.5Z"/>
<line x1="495" y1="158" x2="467.5" y2="144.2"/><path class="ah" d="M463.0,142.0L468.9,142.5L466.9,146.4Z"/>
<line x1="243" y1="125" x2="255.4" y2="145.7"/><path class="ah" d="M258.0,150.0L253.3,146.4L257.1,144.2Z"/>
<line x1="243" y1="148" x2="256.5" y2="170.7"/><path class="ah" d="M259.0,175.0L254.3,171.4L258.1,169.1Z"/>
<line x1="290" y1="175" x2="297.6" y2="188.6"/><path class="ah" d="M300.0,193.0L295.4,189.3L299.3,187.1Z"/>
<line x1="147" y1="151" x2="160.4" y2="172.7"/><path class="ah" d="M163.0,177.0L158.2,173.5L162.0,171.2Z"/>
<line x1="131" y1="168" x2="146.9" y2="188.1"/><path class="ah" d="M150.0,192.0L144.9,189.1L148.3,186.3Z"/>
<line x1="178" y1="172" x2="178.9" y2="202.0"/><path class="ah" d="M179.0,207.0L176.6,201.6L181.0,201.4Z"/>
<line x1="204" y1="157" x2="218.4" y2="180.7"/><path class="ah" d="M221.0,185.0L216.3,181.4L220.0,179.2Z"/>
<line x1="107" y1="195" x2="120.5" y2="217.7"/><path class="ah" d="M123.0,222.0L118.3,218.4L122.1,216.1Z"/>
<line x1="107" y1="230" x2="124.1" y2="253.9"/><path class="ah" d="M127.0,258.0L122.0,254.8L125.6,252.2Z"/>
<line x1="245" y1="223" x2="231.5" y2="229.8"/><path class="ah" d="M227.0,232.0L230.9,227.6L232.9,231.5Z"/>
<line x1="203.5" y1="278" x2="203.5" y2="235.0"/><path class="ah" d="M203.5,230.0L205.7,235.5L201.3,235.5Z"/>
<line x1="200" y1="278" x2="167.3" y2="259.5"/><path class="ah" d="M163.0,257.0L168.9,257.8L166.7,261.6Z"/>
<line x1="208" y1="278" x2="243.0" y2="273.6"/><path class="ah" d="M248.0,273.0L242.8,275.9L242.3,271.5Z"/>
<line x1="351" y1="219.5" x2="319.0" y2="219.5"/><path class="ah" d="M314.0,219.5L319.5,217.3L319.5,221.7Z"/>
<line x1="403" y1="233.5" x2="319.5" y2="233.5"/><path class="ah" d="M314.5,233.5L320.0,231.3L320.0,235.7Z"/>
<line x1="361" y1="255" x2="335.5" y2="267.8"/><path class="ah" d="M331.0,270.0L334.9,265.6L336.9,269.5Z"/>
<line x1="382" y1="262" x2="360.5" y2="272.8"/><path class="ah" d="M356.0,275.0L359.9,270.6L361.9,274.5Z"/>
<line x1="396" y1="270" x2="370.5" y2="281.9"/><path class="ah" d="M366.0,284.0L370.1,279.7L371.9,283.7Z"/>
<line x1="399" y1="270" x2="376.8" y2="288.8"/><path class="ah" d="M373.0,292.0L375.8,286.8L378.6,290.1Z"/>
<line x1="418" y1="278" x2="389.6" y2="290.9"/><path class="ah" d="M385.0,293.0L389.1,288.7L390.9,292.7Z"/>
<line x1="435" y1="288" x2="405.5" y2="302.8"/><path class="ah" d="M401.0,305.0L404.9,300.6L406.9,304.5Z"/>
<line x1="326" y1="288" x2="317.3" y2="282.6"/><path class="ah" d="M313.0,280.0L318.8,281.0L316.5,284.8Z"/>
<line x1="430" y1="323" x2="404.5" y2="334.9"/><path class="ah" d="M400.0,337.0L404.1,332.7L405.9,336.7Z"/>
<line x1="309.5" y1="340" x2="309.5" y2="308.0"/><path class="ah" d="M309.5,303.0L311.7,308.5L307.3,308.5Z"/>
<line x1="332.5" y1="353" x2="332.5" y2="323.0"/><path class="ah" d="M332.5,318.0L334.7,323.5L330.3,323.5Z"/>
<line x1="364.5" y1="372" x2="364.5" y2="343.0"/><path class="ah" d="M364.5,338.0L366.7,343.5L362.3,343.5Z"/>
<line x1="381.5" y1="381" x2="381.5" y2="352.0"/><path class="ah" d="M381.5,347.0L383.7,352.5L379.3,352.5Z"/>
<line x1="401.5" y1="396" x2="401.5" y2="367.0"/><path class="ah" d="M401.5,362.0L403.7,367.5L399.3,367.5Z"/>
<line x1="530" y1="373" x2="507.4" y2="385.6"/><path class="ah" d="M503.0,388.0L506.7,383.4L508.9,387.3Z"/>
<line x1="550" y1="387" x2="522.5" y2="399.9"/><path class="ah" d="M518.0,402.0L522.0,397.7L523.9,401.7Z"/>
<line x1="460.5" y1="433" x2="460.5" y2="407.0"/><path class="ah" d="M460.5,402.0L462.7,407.5L458.3,407.5Z"/>
<line x1="476.5" y1="447" x2="476.5" y2="417.0"/><path class="ah" d="M476.5,412.0L478.7,417.5L474.3,417.5Z"/>
<line x1="495.5" y1="460" x2="495.5" y2="427.0"/><path class="ah" d="M495.5,422.0L497.7,427.5L493.3,427.5Z"/>
<line x1="520.5" y1="460" x2="520.5" y2="433.0"/><path class="ah" d="M520.5,428.0L522.7,433.5L518.3,433.5Z"/>
<line x1="550.5" y1="478" x2="550.5" y2="452.0"/><path class="ah" d="M550.5,447.0L552.7,452.5L548.3,452.5Z"/>
<line x1="579.5" y1="488" x2="579.5" y2="458.0"/><path class="ah" d="M579.5,453.0L581.7,458.5L577.3,458.5Z"/>
<line x1="595.5" y1="497" x2="595.5" y2="467.0"/><path class="ah" d="M595.5,462.0L597.7,467.5L593.3,467.5Z"/>
<line x1="147.5" y1="452" x2="147.5" y2="480.0"/><path class="ah" d="M147.5,485.0L145.3,479.5L149.7,479.5Z"/>
<line x1="165.5" y1="460" x2="165.5" y2="488.0"/><path class="ah" d="M165.5,493.0L163.3,487.5L167.7,487.5Z"/>
<line x1="197" y1="447" x2="220.5" y2="457.9"/><path class="ah" d="M225.0,460.0L219.1,459.7L220.9,455.7Z"/>
<line x1="388" y1="475" x2="361.4" y2="461.3"/><path class="ah" d="M357.0,459.0L362.9,459.6L360.9,463.5Z"/>
<line x1="340" y1="518" x2="313.4" y2="504.3"/><path class="ah" d="M309.0,502.0L314.9,502.6L312.9,506.5Z"/>
<line x1="282" y1="522" x2="257.2" y2="505.7"/><path class="ah" d="M253.0,503.0L258.8,504.2L256.4,507.9Z"/>
<line x1="255" y1="532" x2="229.4" y2="517.5"/><path class="ah" d="M225.0,515.0L230.9,515.8L228.7,519.6Z"/>
<line x1="226" y1="554" x2="198.5" y2="540.2"/><path class="ah" d="M194.0,538.0L199.9,538.5L197.9,542.4Z"/>
<line x1="193" y1="568" x2="167.5" y2="555.2"/><path class="ah" d="M163.0,553.0L168.9,553.5L166.9,557.4Z"/>
<line x1="167" y1="585" x2="141.5" y2="572.2"/><path class="ah" d="M137.0,570.0L142.9,570.5L140.9,574.4Z"/>
<line x1="37" y1="559" x2="47.6" y2="564.6"/><path class="ah" d="M52.0,567.0L46.1,566.4L48.2,562.5Z"/>
<line x1="142" y1="607" x2="116.4" y2="592.5"/><path class="ah" d="M112.0,590.0L117.9,590.8L115.7,594.6Z"/>
<line x1="170" y1="673" x2="144.5" y2="660.2"/><path class="ah" d="M140.0,658.0L145.9,658.5L143.9,662.4Z"/>
<line x1="146" y1="688" x2="121.4" y2="675.3"/><path class="ah" d="M117.0,673.0L122.9,673.6L120.9,677.5Z"/>
<line x1="122" y1="703" x2="97.4" y2="690.3"/><path class="ah" d="M93.0,688.0L98.9,688.6L96.9,692.5Z"/>
<line x1="473" y1="663.5" x2="446.0" y2="663.5"/><path class="ah" d="M441.0,663.5L446.5,661.3L446.5,665.7Z"/>
</g>
<g class="lb">
<text x="441.5" y="48.0">46</text>
<text x="412.5" y="62.0">48</text>
<text x="626.5" y="77.0">42</text>
<text x="593.0" y="97.0">22</text>
<text x="567.5" y="110.0">21</text>
<text x="545.5" y="123.0">20</text>
<text x="389.5" y="97.0">44</text>
<text x="356.5" y="105.0">47</text>
<text x="301.5" y="102.0">49</text>
<text x="496.5" y="168.0">45</text>
<text x="229.0" y="122.0">24</text>
<text x="229.5" y="145.0">40</text>
<text x="274.5" y="172.0">43</text>
<text x="269.0" y="198.0">62</text>
<text x="133.5" y="147.0">24</text>
<text x="121.0" y="165.0">55</text>
<text x="172.0" y="169.0">59</text>
<text x="193.5" y="155.0">41</text>
<text x="93.0" y="190.0">23</text>
<text x="93.0" y="225.0">19</text>
<text x="246.0" y="223.0">52</text>
<text x="196.5" y="291.0">15</text>
<text x="352.5" y="222.0">29</text>
<text x="404.5" y="223.0">26</text>
<text x="404.5" y="235.5">26A</text>
<text x="404.5" y="249.0">26B</text>
<text x="362.5" y="252.0">25</text>
<text x="382.0" y="259.0">28</text>
<text x="396.0" y="269.0">27</text>
<text x="417.5" y="277.0">51</text>
<text x="434.5" y="286.0">50</text>
<text x="327.5" y="298.0">30</text>
<text x="431.0" y="320.0">9</text>
<text x="483.0" y="322.0">54</text>
<text x="299.5" y="352.0">14</text>
<text x="326.0" y="365.0">13</text>
<text x="356.0" y="383.5">12</text>
<text x="375.0" y="393.5">11</text>
<text x="398.5" y="409.0">7</text>
<text x="532.5" y="372.0">8</text>
<text x="551.0" y="385.0">10</text>
<text x="457.5" y="445.0">6</text>
<text x="471.0" y="458.0">5</text>
<text x="492.5" y="472.0">4</text>
<text x="517.0" y="472.0">3</text>
<text x="547.0" y="490.0">1</text>
<text x="570.0" y="500.0">53</text>
<text x="591.0" y="508.0">2</text>
<text x="139.0" y="448.0">36</text>
<text x="158.5" y="457.0">35</text>
<text x="183.5" y="445.0">46</text>
<text x="389.0" y="482.5">34</text>
<text x="341.5" y="527.5">13</text>
<text x="283.0" y="530.0">39</text>
<text x="257.0" y="540.0">38</text>
<text x="227.5" y="562.5">37</text>
<text x="195.5" y="576.0">31</text>
<text x="167.5" y="594.0">32</text>
<text x="22.5" y="557.0">33</text>
<text x="143.0" y="615.0">34</text>
<text x="171.5" y="682.0">17</text>
<text x="147.5" y="698.0">16</text>
<text x="123.0" y="713.0">18</text>
<text x="477.0" y="649.0">56</text>
<text x="477.0" y="662.0">57</text>
<text x="477.0" y="674.0">58</text>
<text x="477.0" y="687.0">61</text>
<text x="477.0" y="700.0">63</text>
</g>
</svg>
<div id="t"><span style="letter-spacing:-0.2px">04B01 Крепление дифференциала </span><span style="letter-spacing:-0.22px">в сборе, Model:2335 </span><span style="letter-spacing:0.07px">Универсальный </span><span style="letter-spacing:-0.05px">полноприводный </span><span style="letter-spacing:-0.26px">трактор - красный(12/02 - )</span></div>
</body></html>
